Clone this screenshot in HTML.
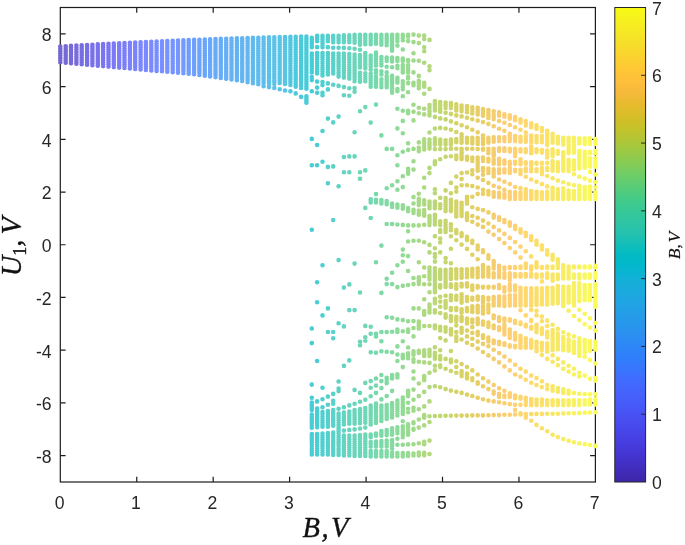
<!DOCTYPE html><html><head><meta charset="utf-8"><title>Bifurcation diagram</title>
<style>html,body{margin:0;padding:0;background:#fff}svg{display:block}text{font-family:"Liberation Sans",sans-serif;fill:#262626}.it{font-family:"Liberation Serif",serif;font-style:italic;fill:#111;stroke:#111;stroke-width:0.35px}</style></head><body>
<svg width="685" height="545" viewBox="0 0 685 545">
<rect width="685" height="545" fill="#fff"/>
<defs><linearGradient id="cb" x1="0" y1="0" x2="0" y2="1"><stop offset="0.0000" stop-color="#f9fb15"/><stop offset="0.0159" stop-color="#f7f51b"/><stop offset="0.0317" stop-color="#f6ef20"/><stop offset="0.0476" stop-color="#f5e924"/><stop offset="0.0635" stop-color="#f5e327"/><stop offset="0.0794" stop-color="#f7dc2a"/><stop offset="0.0952" stop-color="#fad62d"/><stop offset="0.1111" stop-color="#fccf30"/><stop offset="0.1270" stop-color="#fec934"/><stop offset="0.1429" stop-color="#fec338"/><stop offset="0.1587" stop-color="#febe3c"/><stop offset="0.1746" stop-color="#f8ba3d"/><stop offset="0.1905" stop-color="#f0ba36"/><stop offset="0.2063" stop-color="#e6bb2d"/><stop offset="0.2222" stop-color="#dcbd29"/><stop offset="0.2381" stop-color="#d1bf27"/><stop offset="0.2540" stop-color="#c5c22a"/><stop offset="0.2698" stop-color="#b9c431"/><stop offset="0.2857" stop-color="#abc739"/><stop offset="0.3016" stop-color="#9dc943"/><stop offset="0.3175" stop-color="#8fcb4e"/><stop offset="0.3333" stop-color="#81cc59"/><stop offset="0.3492" stop-color="#72cd64"/><stop offset="0.3651" stop-color="#64cd6f"/><stop offset="0.3810" stop-color="#57cc7a"/><stop offset="0.3968" stop-color="#4acb84"/><stop offset="0.4127" stop-color="#3fca8e"/><stop offset="0.4286" stop-color="#37c897"/><stop offset="0.4444" stop-color="#31c69f"/><stop offset="0.4603" stop-color="#2cc4a7"/><stop offset="0.4762" stop-color="#24c1ae"/><stop offset="0.4921" stop-color="#19bfb6"/><stop offset="0.5079" stop-color="#0bbdbd"/><stop offset="0.5238" stop-color="#02bac3"/><stop offset="0.5397" stop-color="#01b8ca"/><stop offset="0.5556" stop-color="#08b5d0"/><stop offset="0.5714" stop-color="#12b1d6"/><stop offset="0.5873" stop-color="#18addb"/><stop offset="0.6032" stop-color="#1ca9df"/><stop offset="0.6190" stop-color="#20a5e3"/><stop offset="0.6349" stop-color="#23a0e5"/><stop offset="0.6508" stop-color="#259be8"/><stop offset="0.6667" stop-color="#2797eb"/><stop offset="0.6825" stop-color="#2b91ef"/><stop offset="0.6984" stop-color="#2d8cf3"/><stop offset="0.7143" stop-color="#2e87f7"/><stop offset="0.7302" stop-color="#2f81fa"/><stop offset="0.7460" stop-color="#327cfc"/><stop offset="0.7619" stop-color="#3875fe"/><stop offset="0.7778" stop-color="#3e6fff"/><stop offset="0.7937" stop-color="#4269fe"/><stop offset="0.8095" stop-color="#4563fd"/><stop offset="0.8254" stop-color="#465efb"/><stop offset="0.8413" stop-color="#4758f8"/><stop offset="0.8571" stop-color="#4852f4"/><stop offset="0.8730" stop-color="#484df0"/><stop offset="0.8889" stop-color="#4747eb"/><stop offset="0.9048" stop-color="#4741e5"/><stop offset="0.9206" stop-color="#463cde"/><stop offset="0.9365" stop-color="#4537d5"/><stop offset="0.9524" stop-color="#4332cb"/><stop offset="0.9683" stop-color="#422ec0"/><stop offset="0.9841" stop-color="#402ab4"/><stop offset="1.0000" stop-color="#3e26a8"/></linearGradient></defs>
<g stroke="#1c1c1c" stroke-width="1.2" fill="none">
<rect x="60.3" y="7.5" width="535.1" height="474.5"/>
<path d="M136.74 482.00v-5.30M136.74 7.50v5.30M213.19 482.00v-5.30M213.19 7.50v5.30M289.63 482.00v-5.30M289.63 7.50v5.30M366.07 482.00v-5.30M366.07 7.50v5.30M442.51 482.00v-5.30M442.51 7.50v5.30M518.96 482.00v-5.30M518.96 7.50v5.30M60.30 455.64h5.30M595.40 455.64h-5.30M60.30 402.92h5.30M595.40 402.92h-5.30M60.30 350.19h5.30M595.40 350.19h-5.30M60.30 297.47h5.30M595.40 297.47h-5.30M60.30 244.75h5.30M595.40 244.75h-5.30M60.30 192.03h5.30M595.40 192.03h-5.30M60.30 139.31h5.30M595.40 139.31h-5.30M60.30 86.58h5.30M595.40 86.58h-5.30M60.30 33.86h5.30M595.40 33.86h-5.30"/>
</g>
<g fill="none" stroke-linecap="round" stroke-width="4.60">
<path stroke="#7466d0" d="M60.3 46.5h0M60.3 48.3h0M60.3 50.0h0M60.3 51.8h0M60.3 53.5h0M60.3 55.3h0M60.3 57.1h0M60.3 58.8h0M60.3 60.6h0M60.3 62.3h0"/>
<path stroke="#7568d5" d="M65.7 46.2h0M65.7 48.0h0M65.7 49.9h0M65.7 51.7h0M65.7 53.6h0M65.7 55.4h0M65.7 57.3h0M65.7 59.1h0M65.7 61.0h0M65.7 62.8h0"/>
<path stroke="#7669d9" d="M71.0 45.9h0M71.0 47.6h0M71.0 49.4h0M71.0 51.1h0M71.0 52.8h0M71.0 54.6h0M71.0 56.3h0M71.0 58.1h0M71.0 59.8h0M71.0 61.5h0M71.0 63.3h0"/>
<path stroke="#776bde" d="M76.4 45.6h0M76.4 47.4h0M76.4 49.2h0M76.4 51.0h0M76.4 52.8h0M76.4 54.7h0M76.4 56.5h0M76.4 58.3h0M76.4 60.1h0M76.4 61.9h0M76.4 63.8h0"/>
<path stroke="#776de2" d="M81.7 45.3h0M81.7 47.0h0M81.7 48.7h0M81.7 50.4h0M81.7 52.2h0M81.7 53.9h0M81.7 55.6h0M81.7 57.3h0M81.7 59.1h0M81.7 60.8h0M81.7 62.5h0M81.7 64.2h0"/>
<path stroke="#786fe6" d="M87.1 45.0h0M87.1 46.8h0M87.1 48.6h0M87.1 50.4h0M87.1 52.2h0M87.1 53.9h0M87.1 55.7h0M87.1 57.5h0M87.1 59.3h0M87.1 61.1h0M87.1 62.9h0M87.1 64.7h0"/>
<path stroke="#7970ea" d="M92.4 44.7h0M92.4 46.4h0M92.4 48.1h0M92.4 49.8h0M92.4 51.5h0M92.4 53.2h0M92.4 54.9h0M92.4 56.6h0M92.4 58.3h0M92.4 60.1h0M92.4 61.8h0M92.4 63.5h0M92.4 65.2h0"/>
<path stroke="#7972ee" d="M97.8 44.4h0M97.8 46.2h0M97.8 47.9h0M97.8 49.7h0M97.8 51.5h0M97.8 53.3h0M97.8 55.0h0M97.8 56.8h0M97.8 58.6h0M97.8 60.3h0M97.8 62.1h0M97.8 63.9h0M97.8 65.7h0"/>
<path stroke="#7a74f1" d="M103.1 44.1h0M103.1 45.9h0M103.1 47.8h0M103.1 49.6h0M103.1 51.4h0M103.1 53.3h0M103.1 55.1h0M103.1 57.0h0M103.1 58.8h0M103.1 60.6h0M103.1 62.5h0M103.1 64.3h0M103.1 66.1h0"/>
<path stroke="#7a77f4" d="M108.5 43.8h0M108.5 45.6h0M108.5 47.3h0M108.5 49.1h0M108.5 50.8h0M108.5 52.6h0M108.5 54.3h0M108.5 56.1h0M108.5 57.8h0M108.5 59.6h0M108.5 61.3h0M108.5 63.1h0M108.5 64.8h0M108.5 66.6h0"/>
<path stroke="#7b79f6" d="M113.8 43.5h0M113.8 45.4h0M113.8 47.2h0M113.8 49.0h0M113.8 50.8h0M113.8 52.6h0M113.8 54.4h0M113.8 56.2h0M113.8 58.0h0M113.8 59.8h0M113.8 61.6h0M113.8 63.5h0M113.8 65.3h0M113.8 67.1h0"/>
<path stroke="#7b7cf8" d="M119.2 43.3h0M119.2 45.0h0M119.2 46.7h0M119.2 48.5h0M119.2 50.2h0M119.2 51.9h0M119.2 53.7h0M119.2 55.4h0M119.2 57.1h0M119.2 58.9h0M119.2 60.6h0M119.2 62.3h0M119.2 64.1h0M119.2 65.8h0M119.2 67.6h0"/>
<path stroke="#7b7ef9" d="M124.5 43.0h0M124.5 44.8h0M124.5 46.6h0M124.5 48.4h0M124.5 50.2h0M124.5 51.9h0M124.5 53.7h0M124.5 55.5h0M124.5 57.3h0M124.5 59.1h0M124.5 60.9h0M124.5 62.7h0M124.5 64.5h0M124.5 66.2h0M124.5 68.0h0"/>
<path stroke="#7b81fb" d="M129.9 42.7h0M129.9 44.6h0M129.9 46.4h0M129.9 48.3h0M129.9 50.1h0M129.9 51.9h0M129.9 53.8h0M129.9 55.6h0M129.9 57.5h0M129.9 59.3h0M129.9 61.1h0M129.9 63.0h0M129.9 64.8h0M129.9 66.7h0M129.9 68.5h0"/>
<path stroke="#7b83fc" d="M135.2 42.5h0M135.2 44.3h0M135.2 46.0h0M135.2 47.8h0M135.2 49.5h0M135.2 51.3h0M135.2 53.1h0M135.2 54.8h0M135.2 56.6h0M135.2 58.4h0M135.2 60.1h0M135.2 61.9h0M135.2 63.7h0M135.2 65.4h0M135.2 67.2h0M135.2 69.0h0"/>
<path stroke="#7b85fd" d="M140.6 42.2h0M140.6 44.0h0M140.6 45.9h0M140.6 47.7h0M140.6 49.5h0M140.6 51.3h0M140.6 53.1h0M140.6 54.9h0M140.6 56.7h0M140.6 58.6h0M140.6 60.4h0M140.6 62.2h0M140.6 64.0h0M140.6 65.8h0M140.6 67.6h0M140.6 69.4h0"/>
<path stroke="#7b88fe" d="M145.9 42.0h0M145.9 43.7h0M145.9 45.5h0M145.9 47.2h0M145.9 49.0h0M145.9 50.7h0M145.9 52.5h0M145.9 54.2h0M145.9 56.0h0M145.9 57.7h0M145.9 59.4h0M145.9 61.2h0M145.9 62.9h0M145.9 64.7h0M145.9 66.4h0M145.9 68.2h0M145.9 69.9h0"/>
<path stroke="#7a8afe" d="M151.3 41.7h0M151.3 43.5h0M151.3 45.3h0M151.3 47.1h0M151.3 48.9h0M151.3 50.7h0M151.3 52.5h0M151.3 54.3h0M151.3 56.1h0M151.3 57.9h0M151.3 59.6h0M151.3 61.4h0M151.3 63.2h0M151.3 65.0h0M151.3 66.8h0M151.3 68.6h0M151.3 70.4h0"/>
<path stroke="#7a8dff" d="M156.6 41.5h0M156.6 43.3h0M156.6 45.2h0M156.6 47.0h0M156.6 48.8h0M156.6 50.7h0M156.6 52.5h0M156.6 54.3h0M156.6 56.2h0M156.6 58.0h0M156.6 59.9h0M156.6 61.7h0M156.6 63.5h0M156.6 65.4h0M156.6 67.2h0M156.6 69.0h0M156.6 70.9h0"/>
<path stroke="#798fff" d="M162.0 41.3h0M162.0 43.0h0M162.0 44.8h0M162.0 46.6h0M162.0 48.3h0M162.0 50.1h0M162.0 51.9h0M162.0 53.6h0M162.0 55.4h0M162.0 57.2h0M162.0 59.0h0M162.0 60.7h0M162.0 62.5h0M162.0 64.3h0M162.0 66.0h0M162.0 67.8h0M162.0 69.6h0M162.0 71.3h0"/>
<path stroke="#7892ff" d="M167.3 41.0h0M167.3 42.8h0M167.3 44.6h0M167.3 46.5h0M167.3 48.3h0M167.3 50.1h0M167.3 51.9h0M167.3 53.7h0M167.3 55.5h0M167.3 57.3h0M167.3 59.1h0M167.3 61.0h0M167.3 62.8h0M167.3 64.6h0M167.3 66.4h0M167.3 68.2h0M167.3 70.0h0M167.3 71.8h0"/>
<path stroke="#7694ff" d="M172.7 40.8h0M172.7 42.5h0M172.7 44.3h0M172.7 46.0h0M172.7 47.8h0M172.7 49.5h0M172.7 51.3h0M172.7 53.0h0M172.7 54.8h0M172.7 56.5h0M172.7 58.3h0M172.7 60.0h0M172.7 61.8h0M172.7 63.5h0M172.7 65.3h0M172.7 67.0h0M172.7 68.8h0M172.7 70.5h0M172.7 72.3h0"/>
<path stroke="#7597ff" d="M178.0 40.6h0M178.0 42.4h0M178.0 44.1h0M178.0 45.9h0M178.0 47.7h0M178.0 49.5h0M178.0 51.3h0M178.0 53.1h0M178.0 54.9h0M178.0 56.7h0M178.0 58.5h0M178.0 60.2h0M178.0 62.0h0M178.0 63.8h0M178.0 65.6h0M178.0 67.4h0M178.0 69.2h0M178.0 71.0h0M178.0 72.8h0"/>
<path stroke="#729aff" d="M183.4 40.3h0M183.4 42.2h0M183.4 44.0h0M183.4 45.8h0M183.4 47.7h0M183.4 49.5h0M183.4 51.3h0M183.4 53.1h0M183.4 55.0h0M183.4 56.8h0M183.4 58.6h0M183.4 60.5h0M183.4 62.3h0M183.4 64.1h0M183.4 65.9h0M183.4 67.8h0M183.4 69.6h0M183.4 71.4h0M183.4 73.2h0"/>
<path stroke="#6f9cfe" d="M188.7 40.1h0M188.7 41.9h0M188.7 43.7h0M188.7 45.4h0M188.7 47.2h0M188.7 49.0h0M188.7 50.7h0M188.7 52.5h0M188.7 54.3h0M188.7 56.0h0M188.7 57.8h0M188.7 59.6h0M188.7 61.3h0M188.7 63.1h0M188.7 64.9h0M188.7 66.6h0M188.7 68.4h0M188.7 70.2h0M188.7 72.0h0M188.7 73.7h0"/>
<path stroke="#6d9ffd" d="M194.1 39.9h0M194.1 41.7h0M194.1 43.5h0M194.1 45.3h0M194.1 47.1h0M194.1 48.9h0M194.1 50.7h0M194.1 52.5h0M194.1 54.4h0M194.1 56.2h0M194.1 58.0h0M194.1 59.8h0M194.1 61.6h0M194.1 63.4h0M194.1 65.2h0M194.1 67.0h0M194.1 68.8h0M194.1 70.6h0M194.1 72.4h0M194.1 74.2h0"/>
<path stroke="#6ba2fc" d="M199.4 39.7h0M199.4 41.5h0M199.4 43.2h0M199.4 45.0h0M199.4 46.8h0M199.4 48.5h0M199.4 50.3h0M199.4 52.0h0M199.4 53.8h0M199.4 55.6h0M199.4 57.3h0M199.4 59.1h0M199.4 60.8h0M199.4 62.6h0M199.4 64.4h0M199.4 66.1h0M199.4 67.9h0M199.4 69.6h0M199.4 71.4h0M199.4 73.2h0M199.4 74.9h0"/>
<path stroke="#69a5fb" d="M204.8 39.5h0M204.8 41.3h0M204.8 43.1h0M204.8 44.9h0M204.8 46.7h0M204.8 48.6h0M204.8 50.4h0M204.8 52.2h0M204.8 54.0h0M204.8 55.8h0M204.8 57.6h0M204.8 59.4h0M204.8 61.2h0M204.8 63.0h0M204.8 64.8h0M204.8 66.6h0M204.8 68.4h0M204.8 70.2h0M204.8 72.1h0M204.8 73.9h0M204.8 75.7h0"/>
<path stroke="#69a7fa" d="M210.1 39.3h0M210.1 41.1h0M210.1 42.8h0M210.1 44.6h0M210.1 46.4h0M210.1 48.1h0M210.1 49.9h0M210.1 51.7h0M210.1 53.4h0M210.1 55.2h0M210.1 57.0h0M210.1 58.7h0M210.1 60.5h0M210.1 62.3h0M210.1 64.0h0M210.1 65.8h0M210.1 67.6h0M210.1 69.3h0M210.1 71.1h0M210.1 72.9h0M210.1 74.6h0M210.1 76.4h0"/>
<path stroke="#68aaf8" d="M215.5 39.1h0M215.5 40.9h0M215.5 42.7h0M215.5 44.6h0M215.5 46.4h0M215.5 48.2h0M215.5 50.0h0M215.5 51.8h0M215.5 53.6h0M215.5 55.4h0M215.5 57.2h0M215.5 59.0h0M215.5 60.8h0M215.5 62.7h0M215.5 64.5h0M215.5 66.3h0M215.5 68.1h0M215.5 69.9h0M215.5 71.7h0M215.5 73.5h0M215.5 75.3h0M215.5 77.1h0"/>
<path stroke="#68acf6" d="M220.8 38.9h0M220.8 40.7h0M220.8 42.5h0M220.8 44.2h0M220.8 46.0h0M220.8 47.8h0M220.8 49.6h0M220.8 51.3h0M220.8 53.1h0M220.8 54.9h0M220.8 56.6h0M220.8 58.4h0M220.8 60.2h0M220.8 61.9h0M220.8 63.7h0M220.8 65.5h0M220.8 67.3h0M220.8 69.0h0M220.8 70.8h0M220.8 72.6h0M220.8 74.3h0M220.8 76.1h0M220.8 77.9h0"/>
<path stroke="#67aef5" d="M226.2 38.7h0M226.2 40.6h0M226.2 42.4h0M226.2 44.2h0M226.2 46.0h0M226.2 47.8h0M226.2 49.6h0M226.2 51.4h0M226.2 53.3h0M226.2 55.1h0M226.2 56.9h0M226.2 58.7h0M226.2 60.5h0M226.2 62.3h0M226.2 64.2h0M226.2 66.0h0M226.2 67.8h0M226.2 69.6h0M226.2 71.4h0M226.2 73.2h0M226.2 75.0h0M226.2 76.9h0M226.2 78.7h0"/>
<path stroke="#66b1f3" d="M231.5 38.6h0M231.5 40.3h0M231.5 42.1h0M231.5 43.9h0M231.5 45.7h0M231.5 47.5h0M231.5 49.2h0M231.5 51.0h0M231.5 52.8h0M231.5 54.6h0M231.5 56.3h0M231.5 58.1h0M231.5 59.9h0M231.5 61.7h0M231.5 63.5h0M231.5 65.2h0M231.5 67.0h0M231.5 68.8h0M231.5 70.6h0M231.5 72.4h0M231.5 74.1h0M231.5 75.9h0M231.5 77.7h0M231.5 79.5h0"/>
<path stroke="#64b3f1" d="M236.9 38.4h0M236.9 40.2h0M236.9 42.0h0M236.9 43.8h0M236.9 45.7h0M236.9 47.5h0M236.9 49.3h0M236.9 51.1h0M236.9 53.0h0M236.9 54.8h0M236.9 56.6h0M236.9 58.4h0M236.9 60.2h0M236.9 62.1h0M236.9 63.9h0M236.9 65.7h0M236.9 67.5h0M236.9 69.3h0M236.9 71.2h0M236.9 73.0h0M236.9 74.8h0M236.9 76.6h0M236.9 78.4h0M236.9 80.3h0"/>
<path stroke="#63b5f0" d="M242.2 38.2h0M242.2 40.0h0M242.2 41.8h0M242.2 43.6h0M242.2 45.4h0M242.2 47.1h0M242.2 48.9h0M242.2 50.7h0M242.2 52.5h0M242.2 54.3h0M242.2 56.1h0M242.2 57.8h0M242.2 59.6h0M242.2 61.4h0M242.2 63.2h0M242.2 65.0h0M242.2 66.8h0M242.2 68.6h0M242.2 70.3h0M242.2 72.1h0M242.2 73.9h0M242.2 75.7h0M242.2 77.5h0M242.2 79.3h0M242.2 81.0h0"/>
<path stroke="#62b7ee" d="M247.6 38.0h0M247.6 39.9h0M247.6 41.7h0M247.6 43.6h0M247.6 45.4h0M247.6 47.2h0M247.6 49.1h0M247.6 50.9h0M247.6 52.7h0M247.6 54.6h0M247.6 56.4h0M247.6 58.2h0M247.6 60.1h0M247.6 61.9h0M247.6 63.7h0M247.6 65.6h0M247.6 67.4h0M247.6 69.3h0M247.6 71.1h0M247.6 72.9h0M247.6 74.8h0M247.6 76.6h0M247.6 78.4h0M247.6 80.3h0M247.6 82.1h0"/>
<path stroke="#61baed" d="M252.9 37.9h0M252.9 39.7h0M252.9 41.5h0M252.9 43.3h0M252.9 45.1h0M252.9 46.9h0M252.9 48.7h0M252.9 50.6h0M252.9 52.4h0M252.9 54.2h0M252.9 56.0h0M252.9 57.8h0M252.9 59.6h0M252.9 61.4h0M252.9 63.2h0M252.9 65.0h0M252.9 66.9h0M252.9 68.7h0M252.9 70.5h0M252.9 72.3h0M252.9 74.1h0M252.9 75.9h0M252.9 77.7h0M252.9 79.5h0M252.9 81.3h0M252.9 83.2h0"/>
<path stroke="#60bcec" d="M258.3 37.7h0M258.3 39.5h0M258.3 41.3h0M258.3 43.1h0M258.3 44.9h0M258.3 46.7h0M258.3 48.5h0M258.3 50.2h0M258.3 52.0h0M258.3 53.8h0M258.3 55.6h0M258.3 57.4h0M258.3 59.2h0M258.3 61.0h0M258.3 62.8h0M258.3 64.5h0M258.3 66.3h0M258.3 68.1h0M258.3 69.9h0M258.3 71.7h0M258.3 73.5h0M258.3 75.3h0M258.3 77.1h0M258.3 78.8h0M258.3 80.6h0M258.3 82.4h0M258.3 84.2h0"/>
<path stroke="#5ebeeb" d="M263.6 37.6h0M263.6 39.4h0M263.6 41.2h0M263.6 43.0h0M263.6 44.8h0M263.6 46.6h0M263.6 48.4h0M263.6 50.3h0M263.6 52.1h0M263.6 53.9h0M263.6 55.7h0M263.6 57.5h0M263.6 59.3h0M263.6 61.1h0M263.6 63.0h0M263.6 64.8h0M263.6 66.6h0M263.6 68.4h0M263.6 70.2h0M263.6 72.0h0M263.6 73.8h0M263.6 75.6h0M263.6 77.5h0M263.6 79.3h0M263.6 81.1h0M263.6 82.9h0M263.6 86.3h0"/>
<path stroke="#5dc0e9" d="M269.0 37.4h0M269.0 39.2h0M269.0 41.0h0M269.0 42.8h0M269.0 44.6h0M269.0 46.4h0M269.0 48.2h0M269.0 49.9h0M269.0 51.7h0M269.0 53.5h0M269.0 55.3h0M269.0 57.1h0M269.0 58.9h0M269.0 60.7h0M269.0 62.5h0M269.0 64.3h0M269.0 66.1h0M269.0 67.8h0M269.0 69.6h0M269.0 71.4h0M269.0 73.2h0M269.0 75.0h0M269.0 76.8h0M269.0 78.6h0M269.0 80.4h0M269.0 82.2h0M269.0 83.9h0M269.0 87.1h0"/>
<path stroke="#5bc2e8" d="M274.3 37.3h0M274.3 39.1h0M274.3 40.9h0M274.3 42.7h0M274.3 44.5h0M274.3 46.3h0M274.3 48.0h0M274.3 49.8h0M274.3 51.6h0M274.3 53.4h0M274.3 55.2h0M274.3 57.0h0M274.3 58.8h0M274.3 60.6h0M274.3 62.4h0M274.3 64.2h0M274.3 66.0h0M274.3 67.8h0M274.3 69.6h0M274.3 71.4h0M274.3 73.2h0M274.3 75.0h0M274.3 76.8h0M274.3 78.6h0M274.3 80.4h0M274.3 82.2h0M274.3 83.9h0M274.3 88.0h0"/>
<path stroke="#59c4e6" d="M279.7 37.1h0M279.7 39.0h0M279.7 40.8h0M279.7 42.6h0M279.7 44.5h0M279.7 46.3h0M279.7 48.1h0M279.7 49.9h0M279.7 51.8h0M279.7 53.6h0M279.7 55.4h0M279.7 57.3h0M279.7 59.1h0M279.7 60.9h0M279.7 62.8h0M279.7 64.6h0M279.7 66.4h0M279.7 68.2h0M279.7 70.1h0M279.7 71.9h0M279.7 73.7h0M279.7 75.6h0M279.7 77.4h0M279.7 79.2h0M279.7 81.1h0M279.7 82.9h0M279.7 89.2h0"/>
<path stroke="#57c5e4" d="M285.0 37.0h0M285.0 38.8h0M285.0 40.6h0M285.0 42.4h0M285.0 44.2h0M285.0 46.0h0M285.0 47.8h0M285.0 49.6h0M285.0 51.4h0M285.0 53.2h0M285.0 55.1h0M285.0 56.9h0M285.0 58.7h0M285.0 60.5h0M285.0 62.3h0M285.0 64.1h0M285.0 65.9h0M285.0 67.7h0M285.0 69.5h0M285.0 71.3h0M285.0 73.1h0M285.0 74.9h0M285.0 76.7h0M285.0 78.5h0M285.0 80.3h0M285.0 82.1h0M285.0 83.9h0M285.0 90.5h0"/>
<path stroke="#53c7e1" d="M290.4 36.9h0M290.4 38.6h0M290.4 40.4h0M290.4 42.2h0M290.4 44.0h0M290.4 45.8h0M290.4 47.6h0M290.4 49.3h0M290.4 51.1h0M290.4 52.9h0M290.4 54.7h0M290.4 56.5h0M290.4 58.3h0M290.4 60.0h0M290.4 61.8h0M290.4 63.6h0M290.4 65.4h0M290.4 67.2h0M290.4 69.0h0M290.4 70.7h0M290.4 72.5h0M290.4 74.3h0M290.4 76.1h0M290.4 77.9h0M290.4 79.7h0M290.4 81.4h0M290.4 83.2h0M290.4 85.0h0M290.4 91.3h0"/>
<path stroke="#4fc9de" d="M295.7 36.7h0M295.7 38.5h0M295.7 40.3h0M295.7 42.1h0M295.7 43.9h0M295.7 45.7h0M295.7 47.5h0M295.7 49.3h0M295.7 51.1h0M295.7 52.8h0M295.7 54.6h0M295.7 56.4h0M295.7 58.2h0M295.7 60.0h0M295.7 61.8h0M295.7 63.6h0M295.7 65.4h0M295.7 67.2h0M295.7 68.9h0M295.7 70.7h0M295.7 72.5h0M295.7 74.3h0M295.7 76.1h0M295.7 77.9h0M295.7 79.7h0M295.7 81.5h0M295.7 83.3h0M295.7 85.1h0M295.7 86.8h0M295.7 93.4h0"/>
<path stroke="#4bcadc" d="M301.1 36.6h0M301.1 38.4h0M301.1 40.3h0M301.1 42.1h0M301.1 44.0h0M301.1 45.8h0M301.1 47.6h0M301.1 49.5h0M301.1 51.3h0M301.1 53.1h0M301.1 55.0h0M301.1 56.8h0M301.1 58.6h0M301.1 60.5h0M301.1 62.3h0M301.1 64.2h0M301.1 66.0h0M301.1 67.8h0M301.1 69.7h0M301.1 71.5h0M301.1 73.3h0M301.1 75.2h0M301.1 77.0h0M301.1 78.9h0M301.1 80.7h0M301.1 82.5h0M301.1 84.4h0M301.1 86.2h0M301.1 88.0h0M301.1 96.9h0"/>
<path stroke="#48ccd9" d="M306.4 36.5h0M306.4 38.3h0M306.4 40.1h0M306.4 41.9h0M306.4 43.7h0M306.4 45.5h0M306.4 47.3h0M306.4 49.1h0M306.4 50.9h0M306.4 52.7h0M306.4 54.5h0M306.4 56.3h0M306.4 58.1h0M306.4 59.9h0M306.4 61.7h0M306.4 63.5h0M306.4 65.3h0M306.4 67.1h0M306.4 68.9h0M306.4 70.7h0M306.4 72.5h0M306.4 74.3h0M306.4 76.1h0M306.4 77.9h0M306.4 79.7h0M306.4 81.5h0M306.4 83.3h0M306.4 85.1h0M306.4 86.9h0M306.4 88.7h0M306.4 96.2h0M306.4 97.8h0M306.4 99.4h0M306.4 101.0h0M306.4 102.7h0"/>
<path stroke="#48cdd6" d="M311.8 37.9h0M311.8 39.8h0M311.8 41.7h0M311.8 43.6h0M311.8 45.4h0M311.8 47.3h0M311.8 53.5h0M311.8 55.6h0M311.8 57.8h0M311.8 59.9h0M311.8 62.0h0M311.8 64.1h0M311.8 66.2h0M311.8 68.3h0M311.8 70.4h0M311.8 72.5h0M311.8 77.1h0M311.8 80.1h0M311.8 91.2h0M311.8 138.9h0M311.8 165.2h0M311.8 229.8h0M311.8 328.5h0M311.8 343.1h0M311.8 384.6h0M311.8 397.7h0M311.8 402.5h0M311.8 404.4h0M311.8 406.2h0M311.8 408.1h0M311.8 409.9h0M311.8 414.6h0M311.8 416.8h0M311.8 419.0h0M311.8 421.2h0M311.8 423.4h0M311.8 425.6h0M311.8 427.8h0M311.8 434.0h0M311.8 436.0h0M311.8 438.1h0M311.8 440.1h0M311.8 442.2h0M311.8 444.2h0M311.8 446.3h0M311.8 448.3h0M311.8 450.4h0M311.8 452.4h0M311.8 454.5h0"/>
<path stroke="#4aced3" d="M317.1 35.9h0M317.1 37.7h0M317.1 39.5h0M317.1 41.3h0M317.1 47.0h0M317.1 47.3h0M317.1 53.0h0M317.1 55.1h0M317.1 57.1h0M317.1 59.2h0M317.1 61.2h0M317.1 63.3h0M317.1 65.3h0M317.1 67.4h0M317.1 69.4h0M317.1 71.5h0M317.1 73.5h0M317.1 81.6h0M317.1 87.6h0M317.1 92.7h0M317.1 145.0h0M317.1 165.2h0M317.1 282.3h0M317.1 302.3h0M317.1 361.0h0M317.1 401.4h0M317.1 408.6h0M317.1 410.7h0M317.1 412.7h0M317.1 414.8h0M317.1 416.9h0M317.1 419.0h0M317.1 421.0h0M317.1 423.1h0M317.1 425.2h0M317.1 427.3h0M317.1 434.0h0M317.1 436.0h0M317.1 438.1h0M317.1 440.1h0M317.1 442.2h0M317.1 444.2h0M317.1 446.3h0M317.1 448.3h0M317.1 450.4h0M317.1 452.4h0M317.1 454.5h0"/>
<path stroke="#4ecfd0" d="M322.5 35.9h0M322.5 37.8h0M322.5 39.7h0M322.5 41.6h0M322.5 43.5h0M322.5 45.4h0M322.5 47.3h0M322.5 53.0h0M322.5 55.1h0M322.5 57.1h0M322.5 59.2h0M322.5 61.2h0M322.5 63.3h0M322.5 65.3h0M322.5 67.4h0M322.5 69.4h0M322.5 71.5h0M322.5 73.5h0M322.5 75.5h0M322.5 82.1h0M322.5 85.1h0M322.5 92.7h0M322.5 95.2h0M322.5 131.0h0M322.5 161.7h0M322.5 265.2h0M322.5 315.4h0M322.5 387.8h0M322.5 399.2h0M322.5 407.2h0M322.5 412.1h0M322.5 414.2h0M322.5 416.3h0M322.5 418.4h0M322.5 420.5h0M322.5 422.6h0M322.5 424.7h0M322.5 426.8h0M322.5 433.5h0M322.5 435.6h0M322.5 437.7h0M322.5 439.8h0M322.5 441.9h0M322.5 444.0h0M322.5 446.1h0M322.5 448.2h0M322.5 450.3h0M322.5 452.4h0M322.5 454.5h0"/>
<path stroke="#54d0cd" d="M327.9 35.9h0M327.9 37.7h0M327.9 39.5h0M327.9 41.3h0M327.9 47.0h0M327.9 47.3h0M327.9 53.0h0M327.9 55.2h0M327.9 57.3h0M327.9 59.5h0M327.9 61.6h0M327.9 63.8h0M327.9 65.9h0M327.9 68.1h0M327.9 70.2h0M327.9 72.4h0M327.9 74.5h0M327.9 83.4h0M327.9 89.4h0M327.9 118.6h0M327.9 166.9h0M327.9 183.2h0M327.9 308.4h0M327.9 332.0h0M327.9 396.6h0M327.9 404.7h0M327.9 411.1h0M327.9 413.1h0M327.9 415.0h0M327.9 417.0h0M327.9 418.9h0M327.9 420.9h0M327.9 422.8h0M327.9 424.8h0M327.9 426.8h0M327.9 433.0h0M327.9 435.1h0M327.9 437.3h0M327.9 439.4h0M327.9 441.6h0M327.9 443.7h0M327.9 445.9h0M327.9 448.0h0M327.9 450.2h0M327.9 452.3h0M327.9 454.5h0"/>
<path stroke="#5ad1c9" d="M333.2 35.9h0M333.2 38.0h0M333.2 40.2h0M333.2 42.3h0M333.2 47.7h0M333.2 53.5h0M333.2 55.5h0M333.2 57.5h0M333.2 59.5h0M333.2 61.5h0M333.2 63.5h0M333.2 65.5h0M333.2 67.5h0M333.2 69.5h0M333.2 71.5h0M333.2 73.5h0M333.2 84.8h0M333.2 122.4h0M333.2 166.4h0M333.2 220.1h0M333.2 332.0h0M333.2 338.2h0M333.2 393.9h0M333.2 400.7h0M333.2 403.7h0M333.2 410.1h0M333.2 412.0h0M333.2 414.0h0M333.2 416.0h0M333.2 417.9h0M333.2 419.9h0M333.2 421.8h0M333.2 423.8h0M333.2 425.7h0M333.2 432.5h0M333.2 434.5h0M333.2 436.6h0M333.2 438.6h0M333.2 440.7h0M333.2 442.7h0M333.2 444.7h0M333.2 446.8h0M333.2 448.8h0M333.2 450.9h0M333.2 452.9h0M333.2 455.0h0"/>
<path stroke="#5fd2c6" d="M338.6 35.9h0M338.6 38.0h0M338.6 40.2h0M338.6 42.3h0M338.6 47.7h0M338.6 53.5h0M338.6 55.6h0M338.6 57.7h0M338.6 59.8h0M338.6 61.9h0M338.6 64.0h0M338.6 66.1h0M338.6 68.2h0M338.6 70.3h0M338.6 72.4h0M338.6 74.5h0M338.6 76.6h0M338.6 85.9h0M338.6 116.6h0M338.6 186.2h0M338.6 260.1h0M338.6 323.3h0M338.6 381.5h0M338.6 388.6h0M338.6 391.1h0M338.6 408.7h0M338.6 413.6h0M338.6 415.8h0M338.6 418.0h0M338.6 420.2h0M338.6 422.3h0M338.6 424.5h0M338.6 426.7h0M338.6 428.9h0M338.6 431.0h0M338.6 433.2h0M338.6 435.4h0M338.6 437.6h0M338.6 439.7h0M338.6 441.9h0M338.6 444.1h0M338.6 446.3h0M338.6 448.5h0M338.6 450.6h0M338.6 452.8h0M338.6 455.0h0"/>
<path stroke="#63d3c3" d="M343.9 35.4h0M343.9 37.1h0M343.9 38.8h0M343.9 40.6h0M343.9 42.3h0M343.9 47.9h0M343.9 53.5h0M343.9 55.7h0M343.9 57.9h0M343.9 60.1h0M343.9 62.3h0M343.9 64.5h0M343.9 66.6h0M343.9 68.8h0M343.9 71.0h0M343.9 73.2h0M343.9 75.4h0M343.9 77.6h0M343.9 87.1h0M343.9 95.2h0M343.9 157.0h0M343.9 172.2h0M343.9 287.6h0M343.9 326.4h0M343.9 365.9h0M343.9 407.2h0M343.9 412.6h0M343.9 414.6h0M343.9 416.6h0M343.9 418.6h0M343.9 420.6h0M343.9 422.5h0M343.9 424.5h0M343.9 430.6h0M343.9 435.5h0M343.9 437.5h0M343.9 439.5h0M343.9 441.5h0M343.9 443.5h0M343.9 445.5h0M343.9 447.5h0M343.9 449.5h0M343.9 451.5h0M343.9 453.5h0M343.9 455.5h0"/>
<path stroke="#67d4c0" d="M349.3 35.4h0M349.3 37.1h0M349.3 38.8h0M349.3 40.6h0M349.3 42.3h0M349.3 48.2h0M349.3 54.0h0M349.3 56.1h0M349.3 58.1h0M349.3 60.2h0M349.3 62.2h0M349.3 64.3h0M349.3 66.3h0M349.3 68.4h0M349.3 70.4h0M349.3 72.4h0M349.3 74.5h0M349.3 76.5h0M349.3 78.6h0M349.3 88.3h0M349.3 95.7h0M349.3 156.4h0M349.3 172.2h0M349.3 284.4h0M349.3 310.1h0M349.3 360.4h0M349.3 405.4h0M349.3 411.6h0M349.3 413.6h0M349.3 415.6h0M349.3 417.7h0M349.3 419.7h0M349.3 421.7h0M349.3 423.7h0M349.3 429.9h0M349.3 435.5h0M349.3 437.5h0M349.3 439.5h0M349.3 441.5h0M349.3 443.5h0M349.3 445.5h0M349.3 447.5h0M349.3 449.5h0M349.3 451.5h0M349.3 453.5h0M349.3 455.5h0"/>
<path stroke="#6ad5bc" d="M354.6 88.1h0M354.6 91.7h0M354.6 34.9h0M354.6 36.9h0M354.6 38.8h0M354.6 40.8h0M354.6 42.8h0M354.6 48.7h0M354.6 54.5h0M354.6 56.6h0M354.6 58.7h0M354.6 60.7h0M354.6 62.8h0M354.6 64.8h0M354.6 66.9h0M354.6 68.9h0M354.6 71.0h0M354.6 73.1h0M354.6 75.1h0M354.6 77.2h0M354.6 79.2h0M354.6 81.3h0M354.6 132.2h0M354.6 156.4h0M354.6 263.6h0M354.6 310.1h0M354.6 389.9h0M354.6 403.7h0M354.6 410.1h0M354.6 412.0h0M354.6 414.0h0M354.6 415.9h0M354.6 417.9h0M354.6 419.8h0M354.6 421.8h0M354.6 423.7h0M354.6 429.4h0M354.6 435.5h0M354.6 437.5h0M354.6 439.6h0M354.6 441.6h0M354.6 443.7h0M354.6 445.7h0M354.6 447.8h0M354.6 449.8h0M354.6 451.9h0M354.6 453.9h0M354.6 456.0h0"/>
<path stroke="#6cd6b8" d="M360.0 111.3h0M360.0 34.9h0M360.0 36.9h0M360.0 38.9h0M360.0 40.8h0M360.0 42.8h0M360.0 44.8h0M360.0 49.7h0M360.0 55.1h0M360.0 57.1h0M360.0 59.2h0M360.0 61.3h0M360.0 63.3h0M360.0 65.4h0M360.0 67.5h0M360.0 72.7h0M360.0 74.5h0M360.0 76.3h0M360.0 78.2h0M360.0 80.0h0M360.0 81.8h0M360.0 172.2h0M360.0 178.7h0M360.0 292.5h0M360.0 341.7h0M360.0 345.2h0M360.0 392.9h0M360.0 401.7h0M360.0 409.1h0M360.0 411.1h0M360.0 413.1h0M360.0 415.1h0M360.0 417.2h0M360.0 419.2h0M360.0 421.2h0M360.0 423.2h0M360.0 428.6h0M360.0 435.0h0M360.0 437.1h0M360.0 439.2h0M360.0 441.3h0M360.0 443.4h0M360.0 445.5h0M360.0 447.6h0M360.0 449.7h0M360.0 451.8h0M360.0 453.9h0M360.0 456.0h0"/>
<path stroke="#6fd7b5" d="M365.3 34.9h0M365.3 36.8h0M365.3 38.7h0M365.3 40.5h0M365.3 42.4h0M365.3 44.3h0M365.3 53.0h0M365.3 55.0h0M365.3 56.9h0M365.3 58.8h0M365.3 60.8h0M365.3 62.7h0M365.3 64.6h0M365.3 66.6h0M365.3 68.5h0M365.3 73.2h0M365.3 75.2h0M365.3 77.2h0M365.3 79.3h0M365.3 81.3h0M365.3 107.1h0M365.3 170.4h0M365.3 207.9h0M365.3 325.9h0M365.3 337.3h0M365.3 340.8h0M365.3 382.9h0M365.3 399.7h0M365.3 408.1h0M365.3 410.2h0M365.3 412.3h0M365.3 414.4h0M365.3 416.4h0M365.3 418.5h0M365.3 420.6h0M365.3 422.7h0M365.3 427.6h0M365.3 434.5h0M365.3 436.6h0M365.3 438.8h0M365.3 440.9h0M365.3 443.1h0M365.3 445.2h0M365.3 447.4h0M365.3 449.5h0M365.3 451.7h0M365.3 453.8h0M365.3 456.0h0"/>
<path stroke="#72d8b1" d="M370.7 34.9h0M370.7 36.8h0M370.7 38.7h0M370.7 40.5h0M370.7 42.4h0M370.7 44.3h0M370.7 55.6h0M370.7 57.7h0M370.7 59.9h0M370.7 62.1h0M370.7 64.3h0M370.7 66.5h0M370.7 69.8h0M370.7 73.7h0M370.7 75.9h0M370.7 78.1h0M370.7 80.3h0M370.7 82.5h0M370.7 84.6h0M370.7 86.8h0M370.7 122.6h0M370.7 218.0h0M370.7 199.2h0M370.7 200.9h0M370.7 202.5h0M370.7 326.8h0M370.7 333.8h0M370.7 352.2h0M370.7 381.1h0M370.7 387.8h0M370.7 396.3h0M370.7 405.6h0M370.7 407.7h0M370.7 409.8h0M370.7 411.9h0M370.7 414.0h0M370.7 416.1h0M370.7 418.2h0M370.7 420.3h0M370.7 422.4h0M370.7 424.5h0M370.7 434.5h0M370.7 435.9h0M370.7 437.3h0M370.7 442.1h0M370.7 444.2h0M370.7 446.4h0M370.7 451.1h0M370.7 452.9h0M370.7 454.7h0M370.7 456.5h0"/>
<path stroke="#76d9ac" d="M376.0 34.9h0M376.0 36.7h0M376.0 38.5h0M376.0 40.2h0M376.0 42.0h0M376.0 43.8h0M376.0 52.5h0M376.0 54.7h0M376.0 56.8h0M376.0 59.0h0M376.0 61.2h0M376.0 63.3h0M376.0 65.5h0M376.0 70.3h0M376.0 72.9h0M376.0 76.7h0M376.0 78.7h0M376.0 80.8h0M376.0 82.8h0M376.0 84.8h0M376.0 86.8h0M376.0 104.6h0M376.0 194.1h0M376.0 262.2h0M376.0 199.7h0M376.0 201.1h0M376.0 202.5h0M376.0 333.8h0M376.0 336.4h0M376.0 352.7h0M376.0 378.5h0M376.0 385.6h0M376.0 392.9h0M376.0 403.5h0M376.0 405.7h0M376.0 407.9h0M376.0 410.0h0M376.0 412.2h0M376.0 414.4h0M376.0 416.5h0M376.0 418.7h0M376.0 420.9h0M376.0 423.0h0M376.0 433.5h0M376.0 434.7h0M376.0 435.8h0M376.0 441.5h0M376.0 443.2h0M376.0 444.8h0M376.0 446.4h0M376.0 451.1h0M376.0 452.9h0M376.0 454.7h0M376.0 456.5h0"/>
<path stroke="#7bdaa8" d="M381.4 34.9h0M381.4 36.9h0M381.4 38.9h0M381.4 40.8h0M381.4 42.8h0M381.4 44.8h0M381.4 57.1h0M381.4 59.2h0M381.4 61.3h0M381.4 63.4h0M381.4 65.5h0M381.4 71.3h0M381.4 74.4h0M381.4 79.2h0M381.4 81.3h0M381.4 83.3h0M381.4 85.3h0M381.4 87.3h0M381.4 135.4h0M381.4 245.6h0M381.4 292.9h0M381.4 200.1h0M381.4 201.8h0M381.4 203.4h0M381.4 332.0h0M381.4 341.2h0M381.4 351.3h0M381.4 375.0h0M381.4 381.1h0M381.4 388.1h0M381.4 399.4h0M381.4 405.6h0M381.4 407.5h0M381.4 409.4h0M381.4 411.4h0M381.4 413.3h0M381.4 415.2h0M381.4 417.1h0M381.4 419.1h0M381.4 421.0h0M381.4 431.0h0M381.4 432.6h0M381.4 434.2h0M381.4 435.8h0M381.4 441.0h0M381.4 442.8h0M381.4 444.6h0M381.4 446.4h0M381.4 451.1h0M381.4 452.9h0M381.4 454.7h0M381.4 456.5h0"/>
<path stroke="#81daa4" d="M386.7 34.9h0M386.7 37.0h0M386.7 39.1h0M386.7 41.1h0M386.7 43.2h0M386.7 45.3h0M386.7 57.6h0M386.7 59.3h0M386.7 60.9h0M386.7 66.8h0M386.7 72.4h0M386.7 76.2h0M386.7 78.1h0M386.7 79.9h0M386.7 81.8h0M386.7 83.6h0M386.7 85.5h0M386.7 87.3h0M386.7 148.9h0M386.7 188.3h0M386.7 224.0h0M386.7 278.8h0M386.7 284.1h0M386.7 201.0h0M386.7 202.6h0M386.7 204.3h0M386.7 317.2h0M386.7 332.0h0M386.7 351.7h0M386.7 377.7h0M386.7 379.3h0M386.7 381.0h0M386.7 383.2h0M386.7 396.1h0M386.7 405.1h0M386.7 407.0h0M386.7 409.0h0M386.7 411.0h0M386.7 413.0h0M386.7 415.0h0M386.7 417.0h0M386.7 419.0h0M386.7 430.0h0M386.7 431.7h0M386.7 433.5h0M386.7 435.3h0M386.7 440.5h0M386.7 442.5h0M386.7 444.5h0M386.7 446.4h0M386.7 451.1h0M386.7 452.9h0M386.7 454.7h0M386.7 456.5h0"/>
<path stroke="#86da9f" d="M392.1 34.9h0M392.1 36.9h0M392.1 38.9h0M392.1 40.9h0M392.1 42.9h0M392.1 44.9h0M392.1 46.9h0M392.1 48.9h0M392.1 50.8h0M392.1 57.6h0M392.1 59.5h0M392.1 61.4h0M392.1 67.3h0M392.1 75.7h0M392.1 77.8h0M392.1 80.0h0M392.1 82.1h0M392.1 84.2h0M392.1 86.3h0M392.1 88.4h0M392.1 90.6h0M392.1 92.7h0M392.1 148.9h0M392.1 185.3h0M392.1 224.0h0M392.1 272.7h0M392.1 284.1h0M392.1 203.6h0M392.1 205.3h0M392.1 206.9h0M392.1 317.7h0M392.1 331.7h0M392.1 352.2h0M392.1 375.1h0M392.1 376.7h0M392.1 378.4h0M392.1 390.9h0M392.1 403.0h0M392.1 405.1h0M392.1 407.2h0M392.1 409.2h0M392.1 411.3h0M392.1 413.4h0M392.1 415.4h0M392.1 417.5h0M392.1 428.4h0M392.1 430.6h0M392.1 432.7h0M392.1 434.8h0M392.1 440.0h0M392.1 442.1h0M392.1 444.2h0M392.1 446.3h0M392.1 448.4h0M392.1 452.6h0M392.1 454.6h0M392.1 456.5h0"/>
<path stroke="#8cdb9a" d="M397.4 34.9h0M397.4 37.0h0M397.4 39.1h0M397.4 41.3h0M397.4 45.6h0M397.4 58.1h0M397.4 59.5h0M397.4 60.9h0M397.4 65.8h0M397.4 68.3h0M397.4 77.7h0M397.4 79.4h0M397.4 81.0h0M397.4 82.6h0M397.4 89.0h0M397.4 90.2h0M397.4 91.3h0M397.4 108.8h0M397.4 128.4h0M397.4 155.2h0M397.4 165.2h0M397.4 181.3h0M397.4 189.7h0M397.4 224.5h0M397.4 265.2h0M397.4 287.1h0M397.4 204.5h0M397.4 206.1h0M397.4 207.8h0M397.4 319.4h0M397.4 329.5h0M397.4 330.7h0M397.4 331.9h0M397.4 346.4h0M397.4 354.5h0M397.4 361.0h0M397.4 374.2h0M397.4 375.8h0M397.4 377.5h0M397.4 400.5h0M397.4 402.7h0M397.4 404.8h0M397.4 406.9h0M397.4 409.1h0M397.4 411.2h0M397.4 413.3h0M397.4 415.5h0M397.4 427.4h0M397.4 429.4h0M397.4 431.4h0M397.4 433.3h0M397.4 438.7h0M397.4 444.7h0M397.4 453.1h0M397.4 454.8h0M397.4 456.5h0"/>
<path stroke="#92db95" d="M402.8 34.9h0M402.8 36.7h0M402.8 38.5h0M402.8 40.3h0M402.8 49.5h0M402.8 58.6h0M402.8 59.8h0M402.8 60.9h0M402.8 65.1h0M402.8 67.0h0M402.8 68.8h0M402.8 70.7h0M402.8 72.5h0M402.8 81.3h0M402.8 83.2h0M402.8 85.2h0M402.8 87.2h0M402.8 89.2h0M402.8 96.2h0M402.8 110.8h0M402.8 120.9h0M402.8 133.3h0M402.8 151.7h0M402.8 176.2h0M402.8 187.1h0M402.8 224.9h0M402.8 249.6h0M402.8 255.2h0M402.8 261.7h0M402.8 285.8h0M402.8 205.4h0M402.8 207.0h0M402.8 208.7h0M402.8 320.1h0M402.8 331.2h0M402.8 341.2h0M402.8 354.9h0M402.8 356.6h0M402.8 358.2h0M402.8 367.1h0M402.8 397.5h0M402.8 399.5h0M402.8 401.6h0M402.8 403.7h0M402.8 405.7h0M402.8 407.8h0M402.8 409.8h0M402.8 411.9h0M402.8 414.0h0M402.8 421.3h0M402.8 426.4h0M402.8 428.6h0M402.8 430.8h0M402.8 433.0h0M402.8 435.2h0M402.8 437.3h0M402.8 444.7h0M402.8 453.1h0M402.8 454.8h0M402.8 456.5h0"/>
<path stroke="#99db90" d="M408.1 34.9h0M408.1 36.7h0M408.1 41.1h0M408.1 60.1h0M408.1 60.9h0M408.1 65.1h0M408.1 67.0h0M408.1 68.8h0M408.1 70.7h0M408.1 72.5h0M408.1 76.9h0M408.1 78.2h0M408.1 82.9h0M408.1 83.3h0M408.1 92.2h0M408.1 110.8h0M408.1 113.3h0M408.1 112.1h0M408.1 143.3h0M408.1 149.9h0M408.1 168.8h0M408.1 170.5h0M408.1 172.2h0M408.1 173.8h0M408.1 225.4h0M408.1 231.2h0M408.1 241.5h0M408.1 256.1h0M408.1 271.0h0M408.1 285.0h0M408.1 208.0h0M408.1 209.6h0M408.1 211.3h0M408.1 321.2h0M408.1 329.5h0M408.1 330.7h0M408.1 331.9h0M408.1 347.5h0M408.1 353.2h0M408.1 354.9h0M408.1 356.5h0M408.1 358.2h0M408.1 390.9h0M408.1 392.7h0M408.1 394.5h0M408.1 396.3h0M408.1 402.7h0M408.1 408.7h0M408.1 412.3h0M408.1 424.4h0M408.1 426.5h0M408.1 428.6h0M408.1 430.7h0M408.1 432.7h0M408.1 434.8h0M408.1 444.4h0M408.1 453.1h0M408.1 454.6h0M408.1 456.0h0"/>
<path stroke="#9fda8b" d="M413.5 34.6h0M413.5 42.1h0M413.5 53.2h0M413.5 60.5h0M413.5 72.4h0M413.5 82.9h0M413.5 84.1h0M413.5 85.3h0M413.5 104.8h0M413.5 111.8h0M413.5 120.4h0M413.5 148.9h0M413.5 161.2h0M413.5 169.6h0M413.5 203.5h0M413.5 225.4h0M413.5 240.8h0M413.5 278.0h0M413.5 284.1h0M413.5 209.7h0M413.5 211.4h0M413.5 213.0h0M413.5 308.4h0M413.5 336.4h0M413.5 351.4h0M413.5 353.1h0M413.5 354.7h0M413.5 361.8h0M413.5 371.5h0M413.5 378.5h0M413.5 389.6h0M413.5 399.7h0M413.5 407.7h0M413.5 410.8h0M413.5 422.4h0M413.5 423.2h0M413.5 428.9h0M413.5 429.8h0M413.5 444.2h0M413.5 453.6h0M413.5 455.5h0M413.5 197.1h0M413.5 321.1h0M413.5 328.0h0M413.5 359.4h0"/>
<path stroke="#a6da86" d="M418.8 35.6h0M418.8 43.1h0M418.8 60.8h0M418.8 75.9h0M418.8 80.9h0M418.8 82.8h0M418.8 84.6h0M418.8 86.5h0M418.8 88.3h0M418.8 107.8h0M418.8 113.3h0M418.8 142.4h0M418.8 150.3h0M418.8 202.6h0M418.8 225.4h0M418.8 240.8h0M418.8 262.2h0M418.8 277.2h0M418.8 278.9h0M418.8 280.6h0M418.8 282.3h0M418.8 284.0h0M418.8 210.6h0M418.8 212.7h0M418.8 214.8h0M418.8 308.4h0M418.8 321.6h0M418.8 323.3h0M418.8 325.0h0M418.8 326.7h0M418.8 328.4h0M418.8 361.7h0M418.8 383.5h0M418.8 396.1h0M418.8 409.3h0M418.8 419.5h0M418.8 427.6h0M418.8 443.2h0M418.8 452.6h0M418.8 454.1h0M418.8 455.5h0M418.8 147.8h0M418.8 151.3h0M418.8 193.8h0M418.8 198.9h0M418.8 201.0h0M418.8 205.1h0M418.8 350.7h0M418.8 351.8h0M418.8 352.9h0"/>
<path stroke="#add981" d="M424.2 35.6h0M424.2 39.1h0M424.2 47.2h0M424.2 51.2h0M424.2 62.8h0M424.2 82.9h0M424.2 84.9h0M424.2 86.8h0M424.2 93.7h0M424.2 108.8h0M424.2 114.4h0M424.2 177.7h0M424.2 187.5h0M424.2 267.5h0M424.2 276.2h0M424.2 284.3h0M424.2 299.3h0M424.2 326.0h0M424.2 350.3h0M424.2 352.2h0M424.2 354.0h0M424.2 355.9h0M424.2 362.4h0M424.2 376.9h0M424.2 391.9h0M424.2 406.4h0M424.2 416.2h0M424.2 425.4h0M424.2 417.8h0M424.2 441.7h0M424.2 443.0h0M424.2 444.3h0M424.2 452.7h0M424.2 454.0h0M424.2 455.3h0M424.2 139.2h0M424.2 141.2h0M424.2 143.3h0M424.2 145.3h0M424.2 147.3h0M424.2 149.4h0M424.2 200.2h0M424.2 202.3h0M424.2 204.5h0M424.2 210.1h0M424.2 212.0h0M424.2 213.8h0M424.2 215.7h0M424.2 224.8h0M424.2 242.3h0M424.2 311.1h0M424.2 312.9h0M424.2 314.7h0M424.2 376.1h0M424.2 378.2h0M424.2 380.3h0M424.2 415.0h0"/>
<path stroke="#b3d97c" d="M429.5 39.9h0M429.5 66.3h0M429.5 70.3h0M429.5 88.9h0M429.5 105.1h0M429.5 107.2h0M429.5 109.3h0M429.5 111.4h0M429.5 113.4h0M429.5 115.5h0M429.5 132.5h0M429.5 139.6h0M429.5 141.4h0M429.5 143.2h0M429.5 145.0h0M429.5 146.8h0M429.5 148.6h0M429.5 167.9h0M429.5 173.1h0M429.5 201.5h0M429.5 203.2h0M429.5 204.9h0M429.5 206.5h0M429.5 208.2h0M429.5 216.1h0M429.5 217.9h0M429.5 219.7h0M429.5 221.5h0M429.5 223.3h0M429.5 225.1h0M429.5 244.9h0M429.5 252.4h0M429.5 267.6h0M429.5 269.6h0M429.5 271.6h0M429.5 273.6h0M429.5 275.6h0M429.5 277.5h0M429.5 279.5h0M429.5 284.3h0M429.5 292.3h0M429.5 304.6h0M429.5 306.6h0M429.5 308.5h0M429.5 310.5h0M429.5 312.4h0M429.5 326.0h0M429.5 349.8h0M429.5 351.8h0M429.5 353.9h0M429.5 355.9h0M429.5 362.9h0M429.5 372.8h0M429.5 387.1h0M429.5 401.4h0M429.5 416.2h0M429.5 422.0h0M429.5 440.6h0M429.5 454.0h0"/>
<path stroke="#bad877" d="M434.9 101.1h0M434.9 103.0h0M434.9 104.8h0M434.9 106.7h0M434.9 108.6h0M434.9 110.5h0M434.9 116.9h0M434.9 128.5h0M434.9 138.4h0M434.9 140.5h0M434.9 142.5h0M434.9 144.6h0M434.9 149.1h0M434.9 161.3h0M434.9 162.8h0M434.9 164.3h0M434.9 189.3h0M434.9 193.3h0M434.9 201.5h0M434.9 203.2h0M434.9 204.9h0M434.9 206.5h0M434.9 208.2h0M434.9 214.9h0M434.9 216.9h0M434.9 218.8h0M434.9 220.7h0M434.9 222.6h0M434.9 224.5h0M434.9 236.2h0M434.9 248.3h0M434.9 254.1h0M434.9 257.0h0M434.9 261.6h0M434.9 268.2h0M434.9 270.4h0M434.9 272.6h0M434.9 274.8h0M434.9 276.9h0M434.9 279.1h0M434.9 281.3h0M434.9 283.5h0M434.9 285.7h0M434.9 287.9h0M434.9 290.0h0M434.9 292.2h0M434.9 298.8h0M434.9 301.0h0M434.9 303.2h0M434.9 310.4h0M434.9 312.4h0M434.9 325.5h0M434.9 326.8h0M434.9 328.2h0M434.9 347.3h0M434.9 352.7h0M434.9 354.7h0M434.9 356.7h0M434.9 358.8h0M434.9 365.8h0M434.9 370.4h0M434.9 386.2h0M434.9 416.0h0"/>
<path stroke="#c0d772" d="M440.2 102.1h0M440.2 104.2h0M440.2 106.3h0M440.2 108.5h0M440.2 111.8h0M440.2 118.4h0M440.2 110.2h0M440.2 127.9h0M440.2 139.6h0M440.2 141.2h0M440.2 142.9h0M440.2 144.6h0M440.2 149.1h0M440.2 159.2h0M440.2 197.9h0M440.2 204.4h0M440.2 206.3h0M440.2 208.2h0M440.2 221.3h0M440.2 223.2h0M440.2 225.1h0M440.2 230.0h0M440.2 232.0h0M440.2 238.5h0M440.2 242.5h0M440.2 252.4h0M440.2 269.9h0M440.2 271.7h0M440.2 273.5h0M440.2 275.3h0M440.2 277.1h0M440.2 278.9h0M440.2 285.0h0M440.2 286.3h0M440.2 287.6h0M440.2 296.7h0M440.2 301.6h0M440.2 306.8h0M440.2 313.1h0M440.2 326.7h0M440.2 328.6h0M440.2 330.5h0M440.2 338.1h0M440.2 350.2h0M440.2 356.1h0M440.2 357.7h0M440.2 359.4h0M440.2 365.4h0M440.2 366.9h0M440.2 387.3h0M440.2 415.9h0"/>
<path stroke="#c6d66e" d="M445.6 102.6h0M445.6 104.4h0M445.6 106.2h0M445.6 108.0h0M445.6 112.8h0M445.6 119.4h0M445.6 128.5h0M445.6 140.2h0M445.6 142.4h0M445.6 144.6h0M445.6 149.1h0M445.6 156.8h0M445.6 190.4h0M445.6 198.1h0M445.6 200.2h0M445.6 202.4h0M445.6 204.6h0M445.6 206.8h0M445.6 208.9h0M445.6 211.1h0M445.6 220.7h0M445.6 222.6h0M445.6 224.5h0M445.6 226.4h0M445.6 228.3h0M445.6 230.1h0M445.6 232.0h0M445.6 258.1h0M445.6 262.2h0M445.6 269.9h0M445.6 272.1h0M445.6 274.2h0M445.6 276.3h0M445.6 278.5h0M445.6 280.6h0M445.6 282.8h0M445.6 284.9h0M445.6 287.0h0M445.6 295.8h0M445.6 301.1h0M445.6 302.8h0M445.6 304.5h0M445.6 306.1h0M445.6 307.8h0M445.6 314.4h0M445.6 316.0h0M445.6 317.6h0M445.6 327.2h0M445.6 329.4h0M445.6 331.6h0M445.6 340.4h0M445.6 358.9h0M445.6 368.7h0M445.6 389.1h0M445.6 415.7h0"/>
<path stroke="#ccd56b" d="M450.9 103.1h0M450.9 104.7h0M450.9 106.3h0M450.9 108.0h0M450.9 113.9h0M450.9 121.4h0M450.9 129.7h0M450.9 139.6h0M450.9 141.2h0M450.9 142.9h0M450.9 144.6h0M450.9 148.7h0M450.9 156.2h0M450.9 182.9h0M450.9 193.3h0M450.9 199.8h0M450.9 201.7h0M450.9 203.6h0M450.9 205.4h0M450.9 207.3h0M450.9 209.2h0M450.9 211.1h0M450.9 210.2h0M450.9 224.2h0M450.9 226.2h0M450.9 228.3h0M450.9 230.3h0M450.9 236.2h0M450.9 248.7h0M450.9 263.3h0M450.9 269.4h0M450.9 271.3h0M450.9 273.2h0M450.9 275.1h0M450.9 277.0h0M450.9 278.9h0M450.9 284.4h0M450.9 285.7h0M450.9 287.0h0M450.9 295.3h0M450.9 297.0h0M450.9 298.7h0M450.9 300.3h0M450.9 308.1h0M450.9 310.1h0M450.9 316.1h0M450.9 317.8h0M450.9 319.5h0M450.9 321.1h0M450.9 329.0h0M450.9 330.8h0M450.9 332.7h0M450.9 334.5h0M450.9 351.0h0M450.9 359.6h0M450.9 360.9h0M450.9 362.2h0M450.9 371.0h0M450.9 390.6h0M450.9 415.7h0"/>
<path stroke="#d2d467" d="M456.3 104.4h0M456.3 106.4h0M456.3 108.4h0M456.3 110.5h0M456.3 115.4h0M456.3 123.3h0M456.3 132.0h0M456.3 139.0h0M456.3 140.6h0M456.3 142.2h0M456.3 148.7h0M456.3 155.6h0M456.3 157.5h0M456.3 159.1h0M456.3 176.6h0M456.3 187.5h0M456.3 191.6h0M456.3 201.5h0M456.3 203.4h0M456.3 205.4h0M456.3 207.3h0M456.3 209.2h0M456.3 211.1h0M456.3 213.1h0M456.3 214.8h0M456.3 216.4h0M456.3 230.0h0M456.3 231.6h0M456.3 233.2h0M456.3 240.2h0M456.3 269.4h0M456.3 271.2h0M456.3 273.0h0M456.3 274.8h0M456.3 276.6h0M456.3 278.4h0M456.3 284.4h0M456.3 286.6h0M456.3 288.8h0M456.3 295.9h0M456.3 297.8h0M456.3 299.7h0M456.3 308.1h0M456.3 310.1h0M456.3 318.5h0M456.3 319.8h0M456.3 321.1h0M456.3 316.9h0M456.3 325.4h0M456.3 332.1h0M456.3 336.5h0M456.3 338.7h0M456.3 340.9h0M456.3 361.2h0M456.3 367.0h0M456.3 372.8h0M456.3 391.7h0M456.3 415.6h0"/>
<path stroke="#d8d265" d="M461.6 105.5h0M461.6 107.4h0M461.6 109.2h0M461.6 111.1h0M461.6 116.4h0M461.6 125.3h0M461.6 134.4h0M461.6 136.5h0M461.6 138.6h0M461.6 140.7h0M461.6 142.8h0M461.6 148.8h0M461.6 150.6h0M461.6 152.4h0M461.6 154.2h0M461.6 156.0h0M461.6 157.8h0M461.6 159.1h0M461.6 173.1h0M461.6 179.1h0M461.6 185.2h0M461.6 202.7h0M461.6 204.8h0M461.6 206.9h0M461.6 209.0h0M461.6 211.1h0M461.6 212.3h0M461.6 214.1h0M461.6 215.9h0M461.6 233.4h0M461.6 234.7h0M461.6 236.1h0M461.6 244.6h0M461.6 269.4h0M461.6 271.5h0M461.6 273.6h0M461.6 275.7h0M461.6 277.8h0M461.6 283.8h0M461.6 285.1h0M461.6 286.5h0M461.6 294.2h0M461.6 296.3h0M461.6 298.4h0M461.6 300.5h0M461.6 302.6h0M461.6 309.2h0M461.6 310.8h0M461.6 312.4h0M461.6 318.5h0M461.6 319.8h0M461.6 321.1h0M461.6 316.9h0M461.6 327.8h0M461.6 329.5h0M461.6 331.1h0M461.6 332.8h0M461.6 339.5h0M461.6 364.1h0M461.6 371.1h0M461.6 372.8h0M461.6 374.5h0M461.6 376.1h0M461.6 392.9h0M461.6 415.6h0"/>
<path stroke="#ddd164" d="M467.0 106.1h0M467.0 108.1h0M467.0 110.2h0M467.0 112.2h0M467.0 117.8h0M467.0 127.3h0M467.0 137.9h0M467.0 139.5h0M467.0 141.2h0M467.0 142.8h0M467.0 148.7h0M467.0 156.8h0M467.0 158.1h0M467.0 159.7h0M467.0 172.5h0M467.0 185.2h0M467.0 196.9h0M467.0 198.6h0M467.0 200.2h0M467.0 201.9h0M467.0 203.6h0M467.0 213.2h0M467.0 214.9h0M467.0 216.6h0M467.0 218.2h0M467.0 219.9h0M467.0 236.9h0M467.0 238.5h0M467.0 240.1h0M467.0 248.9h0M467.0 269.4h0M467.0 271.3h0M467.0 273.3h0M467.0 275.2h0M467.0 277.2h0M467.0 283.2h0M467.0 284.8h0M467.0 286.5h0M467.0 297.1h0M467.0 299.0h0M467.0 300.9h0M467.0 308.1h0M467.0 309.7h0M467.0 311.3h0M467.0 318.5h0M467.0 319.8h0M467.0 321.1h0M467.0 323.5h0M467.0 330.6h0M467.0 336.4h0M467.0 342.7h0M467.0 367.0h0M467.0 373.5h0M467.0 374.8h0M467.0 376.1h0M467.0 376.9h0M467.0 378.5h0M467.0 394.6h0M467.0 415.6h0"/>
<path stroke="#e2d064" d="M472.3 107.2h0M472.3 109.3h0M472.3 111.3h0M472.3 113.4h0M472.3 119.3h0M472.3 129.7h0M472.3 137.9h0M472.3 139.7h0M472.3 141.6h0M472.3 143.4h0M472.3 148.7h0M472.3 157.6h0M472.3 159.2h0M472.3 160.9h0M472.3 170.2h0M472.3 174.3h0M472.3 186.0h0M472.3 196.8h0M472.3 207.2h0M472.3 216.0h0M472.3 221.7h0M472.3 240.9h0M472.3 243.0h0M472.3 254.7h0M472.3 268.8h0M472.3 270.7h0M472.3 272.7h0M472.3 274.7h0M472.3 276.6h0M472.3 285.5h0M472.3 287.7h0M472.3 289.9h0M472.3 297.7h0M472.3 299.7h0M472.3 306.3h0M472.3 308.2h0M472.3 310.0h0M472.3 311.9h0M472.3 319.6h0M472.3 321.1h0M472.3 322.4h0M472.3 327.1h0M472.3 332.9h0M472.3 338.7h0M472.3 345.0h0M472.3 370.4h0M472.3 378.2h0M472.3 380.3h0M472.3 396.0h0M472.3 415.4h0"/>
<path stroke="#e7cf65" d="M477.7 107.8h0M477.7 109.5h0M477.7 111.2h0M477.7 112.8h0M477.7 114.5h0M477.7 120.6h0M477.7 132.2h0M477.7 137.9h0M477.7 139.9h0M477.7 141.9h0M477.7 144.0h0M477.7 149.1h0M477.7 157.6h0M477.7 159.8h0M477.7 162.0h0M477.7 164.2h0M477.7 166.3h0M477.7 168.5h0M477.7 170.7h0M477.7 177.7h0M477.7 187.5h0M477.7 193.9h0M477.7 208.9h0M477.7 217.7h0M477.7 224.6h0M477.7 245.5h0M477.7 247.5h0M477.7 249.4h0M477.7 259.3h0M477.7 268.2h0M477.7 270.0h0M477.7 271.8h0M477.7 273.6h0M477.7 275.4h0M477.7 277.2h0M477.7 286.1h0M477.7 287.6h0M477.7 296.5h0M477.7 298.1h0M477.7 299.7h0M477.7 305.7h0M477.7 307.4h0M477.7 309.1h0M477.7 310.8h0M477.7 312.4h0M477.7 318.5h0M477.7 319.8h0M477.7 321.1h0M477.7 322.5h0M477.7 324.1h0M477.7 331.9h0M477.7 333.5h0M477.7 335.1h0M477.7 341.6h0M477.7 348.5h0M477.7 374.5h0M477.7 382.2h0M477.7 383.7h0M477.7 397.7h0M477.7 415.4h0"/>
<path stroke="#ecce67" d="M483.0 109.0h0M483.0 110.7h0M483.0 112.3h0M483.0 114.0h0M483.0 115.7h0M483.0 122.1h0M483.0 135.5h0M483.0 137.7h0M483.0 139.8h0M483.0 141.9h0M483.0 144.0h0M483.0 148.8h0M483.0 149.8h0M483.0 157.6h0M483.0 159.2h0M483.0 160.9h0M483.0 168.0h0M483.0 169.3h0M483.0 170.7h0M483.0 174.8h0M483.0 180.0h0M483.0 189.9h0M483.0 193.9h0M483.0 210.1h0M483.0 220.6h0M483.0 226.9h0M483.0 250.2h0M483.0 252.2h0M483.0 265.1h0M483.0 265.9h0M483.0 268.0h0M483.0 270.2h0M483.0 272.3h0M483.0 274.5h0M483.0 276.6h0M483.0 286.7h0M483.0 287.6h0M483.0 297.1h0M483.0 298.9h0M483.0 300.8h0M483.0 302.6h0M483.0 306.3h0M483.0 308.1h0M483.0 310.0h0M483.0 311.8h0M483.0 313.6h0M483.0 321.5h0M483.0 323.1h0M483.0 324.7h0M483.0 335.3h0M483.0 336.7h0M483.0 338.0h0M483.0 343.9h0M483.0 352.0h0M483.0 378.3h0M483.0 386.2h0M483.0 399.2h0M483.0 415.4h0"/>
<path stroke="#f0ce6a" d="M488.4 110.1h0M488.4 112.1h0M488.4 114.1h0M488.4 116.0h0M488.4 118.0h0M488.4 123.9h0M488.4 137.9h0M488.4 139.5h0M488.4 141.2h0M488.4 142.8h0M488.4 148.8h0M488.4 151.0h0M488.4 153.2h0M488.4 158.8h0M488.4 160.1h0M488.4 161.4h0M488.4 168.6h0M488.4 170.8h0M488.4 173.0h0M488.4 182.9h0M488.4 191.1h0M488.4 192.7h0M488.4 194.4h0M488.4 212.4h0M488.4 223.5h0M488.4 231.6h0M488.4 255.4h0M488.4 257.0h0M488.4 258.6h0M488.4 267.6h0M488.4 269.4h0M488.4 271.2h0M488.4 273.0h0M488.4 274.8h0M488.4 276.6h0M488.4 286.7h0M488.4 287.6h0M488.4 297.7h0M488.4 299.7h0M488.4 304.6h0M488.4 306.6h0M488.4 308.5h0M488.4 310.5h0M488.4 312.4h0M488.4 322.6h0M488.4 324.8h0M488.4 327.0h0M488.4 337.6h0M488.4 339.5h0M488.4 341.5h0M488.4 346.2h0M488.4 355.4h0M488.4 381.6h0M488.4 389.1h0M488.4 400.6h0M488.4 415.3h0"/>
<path stroke="#f4cd6e" d="M493.7 111.3h0M493.7 113.3h0M493.7 115.2h0M493.7 117.2h0M493.7 119.1h0M493.7 126.2h0M493.7 137.3h0M493.7 139.5h0M493.7 141.7h0M493.7 148.8h0M493.7 150.6h0M493.7 152.5h0M493.7 154.3h0M493.7 156.1h0M493.7 153.5h0M493.7 155.1h0M493.7 159.9h0M493.7 161.8h0M493.7 163.7h0M493.7 169.2h0M493.7 171.0h0M493.7 172.8h0M493.7 174.6h0M493.7 176.5h0M493.7 185.8h0M493.7 192.3h0M493.7 194.5h0M493.7 196.7h0M493.7 214.9h0M493.7 216.3h0M493.7 217.6h0M493.7 226.9h0M493.7 234.8h0M493.7 261.1h0M493.7 262.8h0M493.7 264.5h0M493.7 266.1h0M493.7 268.5h0M493.7 273.4h0M493.7 275.3h0M493.7 277.2h0M493.7 286.7h0M493.7 287.6h0M493.7 297.1h0M493.7 299.2h0M493.7 301.3h0M493.7 303.4h0M493.7 305.5h0M493.7 315.6h0M493.7 316.9h0M493.7 318.2h0M493.7 325.5h0M493.7 326.8h0M493.7 328.2h0M493.7 340.5h0M493.7 341.9h0M493.7 343.2h0M493.7 349.7h0M493.7 358.9h0M493.7 385.0h0M493.7 391.5h0M493.7 393.6h0M493.7 401.4h0M493.7 415.1h0"/>
<path stroke="#f8cd72" d="M499.1 112.4h0M499.1 114.1h0M499.1 115.7h0M499.1 121.0h0M499.1 128.7h0M499.1 137.3h0M499.1 139.2h0M499.1 141.1h0M499.1 148.3h0M499.1 149.6h0M499.1 150.9h0M499.1 158.8h0M499.1 160.6h0M499.1 162.5h0M499.1 164.3h0M499.1 169.2h0M499.1 171.1h0M499.1 173.0h0M499.1 179.5h0M499.1 187.5h0M499.1 192.9h0M499.1 195.1h0M499.1 197.2h0M499.1 217.2h0M499.1 218.6h0M499.1 219.9h0M499.1 230.4h0M499.1 239.1h0M499.1 265.8h0M499.1 267.8h0M499.1 270.8h0M499.1 272.9h0M499.1 275.1h0M499.1 277.2h0M499.1 285.0h0M499.1 286.6h0M499.1 288.2h0M499.1 296.5h0M499.1 298.3h0M499.1 300.1h0M499.1 301.9h0M499.1 303.7h0M499.1 305.5h0M499.1 317.3h0M499.1 319.2h0M499.1 321.1h0M499.1 320.1h0M499.1 327.2h0M499.1 328.6h0M499.1 329.9h0M499.1 341.7h0M499.1 343.0h0M499.1 344.3h0M499.1 353.1h0M499.1 362.4h0M499.1 388.3h0M499.1 393.8h0M499.1 395.4h0M499.1 397.0h0M499.1 402.3h0M499.1 415.1h0"/>
<path stroke="#fbce73" d="M504.4 114.2h0M504.4 115.5h0M504.4 116.8h0M504.4 122.7h0M504.4 130.8h0M504.4 137.3h0M504.4 139.2h0M504.4 141.1h0M504.4 148.3h0M504.4 149.6h0M504.4 150.9h0M504.4 160.5h0M504.4 162.1h0M504.4 163.7h0M504.4 169.2h0M504.4 170.8h0M504.4 172.4h0M504.4 181.8h0M504.4 189.9h0M504.4 194.0h0M504.4 195.9h0M504.4 197.8h0M504.4 220.1h0M504.4 222.2h0M504.4 233.9h0M504.4 243.1h0M504.4 267.6h0M504.4 269.1h0M504.4 273.4h0M504.4 275.6h0M504.4 277.8h0M504.4 287.3h0M504.4 289.5h0M504.4 291.6h0M504.4 296.5h0M504.4 298.4h0M504.4 300.3h0M504.4 302.3h0M504.4 304.2h0M504.4 306.1h0M504.4 318.5h0M504.4 319.8h0M504.4 321.1h0M504.4 324.9h0M504.4 326.9h0M504.4 328.8h0M504.4 330.7h0M504.4 332.6h0M504.4 334.5h0M504.4 343.4h0M504.4 344.9h0M504.4 356.6h0M504.4 366.4h0M504.4 390.8h0M504.4 395.5h0M504.4 397.0h0M504.4 403.2h0M504.4 414.8h0"/>
<path stroke="#fed073" d="M509.8 115.3h0M509.8 116.9h0M509.8 118.6h0M509.8 125.0h0M509.8 133.8h0M509.8 135.6h0M509.8 137.5h0M509.8 139.3h0M509.8 141.1h0M509.8 148.8h0M509.8 150.2h0M509.8 151.5h0M509.8 161.7h0M509.8 163.0h0M509.8 164.3h0M509.8 168.0h0M509.8 169.7h0M509.8 171.3h0M509.8 173.0h0M509.8 184.1h0M509.8 191.7h0M509.8 193.5h0M509.8 195.3h0M509.8 197.2h0M509.8 199.0h0M509.8 222.4h0M509.8 224.1h0M509.8 225.7h0M509.8 237.9h0M509.8 248.0h0M509.8 267.0h0M509.8 268.0h0M509.8 273.4h0M509.8 275.1h0M509.8 276.7h0M509.8 278.4h0M509.8 280.1h0M509.8 284.4h0M509.8 286.4h0M509.8 288.5h0M509.8 290.5h0M509.8 295.3h0M509.8 297.4h0M509.8 299.4h0M509.8 301.4h0M509.8 303.5h0M509.8 305.5h0M509.8 319.2h0M509.8 320.7h0M509.8 329.6h0M509.8 331.7h0M509.8 333.8h0M509.8 335.9h0M509.8 338.0h0M509.8 345.2h0M509.8 346.6h0M509.8 360.6h0M509.8 370.4h0M509.8 393.2h0M509.8 395.1h0M509.8 397.0h0M509.8 404.1h0M509.8 414.8h0"/>
<path stroke="#fed271" d="M515.1 117.1h0M515.1 118.7h0M515.1 120.3h0M515.1 127.3h0M515.1 136.1h0M515.1 137.8h0M515.1 139.4h0M515.1 141.1h0M515.1 148.8h0M515.1 150.6h0M515.1 152.5h0M515.1 154.3h0M515.1 156.1h0M515.1 161.7h0M515.1 163.7h0M515.1 169.8h0M515.1 171.3h0M515.1 187.0h0M515.1 192.3h0M515.1 194.0h0M515.1 195.6h0M515.1 197.3h0M515.1 199.0h0M515.1 225.9h0M515.1 227.5h0M515.1 229.1h0M515.1 242.0h0M515.1 252.4h0M515.1 267.0h0M515.1 268.0h0M515.1 274.0h0M515.1 275.3h0M515.1 276.6h0M515.1 285.5h0M515.1 287.2h0M515.1 288.8h0M515.1 290.5h0M515.1 295.3h0M515.1 297.4h0M515.1 299.4h0M515.1 301.4h0M515.1 303.5h0M515.1 305.5h0M515.1 320.9h0M515.1 323.0h0M515.1 333.0h0M515.1 334.7h0M515.1 336.4h0M515.1 338.0h0M515.1 339.7h0M515.1 345.7h0M515.1 347.2h0M515.1 364.7h0M515.1 374.5h0M515.1 395.5h0M515.1 396.9h0M515.1 398.2h0M515.1 404.7h0M515.1 409.9h0M515.1 414.5h0"/>
<path stroke="#fed56f" d="M520.5 119.4h0M520.5 121.0h0M520.5 122.6h0M520.5 129.7h0M520.5 136.7h0M520.5 138.4h0M520.5 140.0h0M520.5 141.7h0M520.5 149.4h0M520.5 151.5h0M520.5 159.4h0M520.5 161.0h0M520.5 162.7h0M520.5 164.3h0M520.5 169.8h0M520.5 171.9h0M520.5 174.1h0M520.5 188.1h0M520.5 192.3h0M520.5 194.0h0M520.5 195.6h0M520.5 197.3h0M520.5 199.0h0M520.5 229.4h0M520.5 231.0h0M520.5 232.6h0M520.5 246.6h0M520.5 257.6h0M520.5 266.5h0M520.5 268.0h0M520.5 274.0h0M520.5 275.3h0M520.5 276.6h0M520.5 287.8h0M520.5 289.8h0M520.5 291.8h0M520.5 293.7h0M520.5 295.7h0M520.5 297.7h0M520.5 299.6h0M520.5 301.6h0M520.5 303.5h0M520.5 305.5h0M520.5 310.2h0M520.5 322.6h0M520.5 324.1h0M520.5 335.9h0M520.5 337.9h0M520.5 339.9h0M520.5 341.9h0M520.5 343.8h0M520.5 345.8h0M520.5 347.8h0M520.5 368.7h0M520.5 376.7h0M520.5 396.7h0M520.5 398.8h0M520.5 404.7h0M520.5 413.4h0M520.5 414.4h0"/>
<path stroke="#fed76d" d="M525.8 121.1h0M525.8 123.3h0M525.8 125.5h0M525.8 132.5h0M525.8 136.1h0M525.8 138.0h0M525.8 139.8h0M525.8 141.7h0M525.8 149.4h0M525.8 150.7h0M525.8 152.1h0M525.8 162.2h0M525.8 163.7h0M525.8 168.6h0M525.8 169.9h0M525.8 171.3h0M525.8 176.8h0M525.8 189.4h0M525.8 191.3h0M525.8 193.2h0M525.8 195.1h0M525.8 197.1h0M525.8 199.0h0M525.8 232.8h0M525.8 234.5h0M525.8 236.1h0M525.8 251.2h0M525.8 263.5h0M525.8 264.8h0M525.8 266.1h0M525.8 268.0h0M525.8 274.0h0M525.8 275.3h0M525.8 276.6h0M525.8 288.4h0M525.8 290.6h0M525.8 292.7h0M525.8 294.8h0M525.8 297.0h0M525.8 299.1h0M525.8 301.2h0M525.8 303.4h0M525.8 305.5h0M525.8 315.4h0M525.8 324.9h0M525.8 326.4h0M525.8 338.2h0M525.8 340.1h0M525.8 342.1h0M525.8 344.0h0M525.8 345.9h0M525.8 347.8h0M525.8 371.6h0M525.8 379.8h0M525.8 397.8h0M525.8 399.7h0M525.8 401.5h0M525.8 403.3h0M525.8 405.1h0M525.8 414.0h0M525.8 415.9h0M525.8 417.8h0"/>
<path stroke="#feda6b" d="M531.2 123.4h0M531.2 125.3h0M531.2 127.2h0M531.2 135.5h0M531.2 137.2h0M531.2 138.9h0M531.2 140.6h0M531.2 142.2h0M531.2 146.5h0M531.2 148.2h0M531.2 149.9h0M531.2 151.5h0M531.2 153.2h0M531.2 162.2h0M531.2 163.9h0M531.2 165.5h0M531.2 169.2h0M531.2 171.3h0M531.2 179.5h0M531.2 191.1h0M531.2 193.1h0M531.2 195.1h0M531.2 197.0h0M531.2 199.0h0M531.2 236.3h0M531.2 238.2h0M531.2 240.1h0M531.2 256.4h0M531.2 266.5h0M531.2 268.1h0M531.2 269.7h0M531.2 274.0h0M531.2 275.3h0M531.2 276.6h0M531.2 288.4h0M531.2 290.6h0M531.2 292.7h0M531.2 294.8h0M531.2 297.0h0M531.2 299.1h0M531.2 301.2h0M531.2 303.4h0M531.2 305.5h0M531.2 309.7h0M531.2 320.1h0M531.2 321.2h0M531.2 326.7h0M531.2 328.7h0M531.2 340.0h0M531.2 341.9h0M531.2 343.9h0M531.2 345.8h0M531.2 347.8h0M531.2 375.6h0M531.2 382.7h0M531.2 399.0h0M531.2 401.0h0M531.2 403.1h0M531.2 405.1h0M531.2 414.1h0M531.2 420.8h0"/>
<path stroke="#fddd6a" d="M536.5 125.2h0M536.5 127.1h0M536.5 129.0h0M536.5 136.1h0M536.5 138.2h0M536.5 140.2h0M536.5 142.2h0M536.5 149.4h0M536.5 150.7h0M536.5 152.1h0M536.5 162.8h0M536.5 163.7h0M536.5 169.2h0M536.5 171.3h0M536.5 181.8h0M536.5 191.7h0M536.5 193.5h0M536.5 195.3h0M536.5 197.2h0M536.5 199.0h0M536.5 240.9h0M536.5 242.8h0M536.5 244.7h0M536.5 262.3h0M536.5 264.2h0M536.5 266.1h0M536.5 267.4h0M536.5 274.6h0M536.5 275.9h0M536.5 277.2h0M536.5 288.4h0M536.5 290.5h0M536.5 292.5h0M536.5 294.6h0M536.5 296.7h0M536.5 298.7h0M536.5 300.8h0M536.5 302.9h0M536.5 304.9h0M536.5 310.8h0M536.5 315.4h0M536.5 324.9h0M536.5 326.8h0M536.5 328.6h0M536.5 330.4h0M536.5 332.2h0M536.5 341.7h0M536.5 343.6h0M536.5 345.5h0M536.5 347.4h0M536.5 349.4h0M536.5 351.3h0M536.5 378.1h0M536.5 385.0h0M536.5 399.6h0M536.5 401.4h0M536.5 403.3h0M536.5 405.1h0M536.5 413.9h0M536.5 424.9h0"/>
<path stroke="#fce068" d="M541.9 128.0h0M541.9 129.7h0M541.9 131.3h0M541.9 136.1h0M541.9 138.2h0M541.9 140.2h0M541.9 142.2h0M541.9 150.0h0M541.9 151.3h0M541.9 152.6h0M541.9 162.8h0M541.9 163.7h0M541.9 168.0h0M541.9 170.1h0M541.9 172.1h0M541.9 174.1h0M541.9 184.1h0M541.9 192.3h0M541.9 194.0h0M541.9 195.6h0M541.9 197.3h0M541.9 199.0h0M541.9 245.5h0M541.9 247.5h0M541.9 249.4h0M541.9 267.0h0M541.9 268.0h0M541.9 274.6h0M541.9 276.6h0M541.9 281.4h0M541.9 288.4h0M541.9 290.4h0M541.9 292.4h0M541.9 294.4h0M541.9 296.4h0M541.9 298.4h0M541.9 300.4h0M541.9 302.4h0M541.9 304.4h0M541.9 316.6h0M541.9 321.2h0M541.9 328.4h0M541.9 330.2h0M541.9 332.1h0M541.9 333.9h0M541.9 342.8h0M541.9 344.7h0M541.9 346.5h0M541.9 348.3h0M541.9 350.1h0M541.9 354.9h0M541.9 381.2h0M541.9 387.1h0M541.9 399.6h0M541.9 401.4h0M541.9 403.3h0M541.9 405.1h0M541.9 413.9h0M541.9 428.3h0"/>
<path stroke="#fae367" d="M547.2 130.9h0M547.2 133.0h0M547.2 135.0h0M547.2 137.0h0M547.2 139.0h0M547.2 141.1h0M547.2 143.1h0M547.2 145.1h0M547.2 150.6h0M547.2 151.9h0M547.2 153.2h0M547.2 155.5h0M547.2 157.4h0M547.2 162.8h0M547.2 163.2h0M547.2 168.0h0M547.2 170.1h0M547.2 176.0h0M547.2 186.4h0M547.2 191.7h0M547.2 193.5h0M547.2 195.3h0M547.2 197.2h0M547.2 199.0h0M547.2 250.2h0M547.2 252.4h0M547.2 254.6h0M547.2 266.5h0M547.2 268.0h0M547.2 273.4h0M547.2 275.6h0M547.2 277.8h0M547.2 287.8h0M547.2 289.9h0M547.2 292.0h0M547.2 294.0h0M547.2 296.1h0M547.2 298.2h0M547.2 300.2h0M547.2 302.3h0M547.2 304.4h0M547.2 320.6h0M547.2 326.0h0M547.2 331.9h0M547.2 333.7h0M547.2 335.6h0M547.2 337.4h0M547.2 343.4h0M547.2 345.5h0M547.2 347.6h0M547.2 349.7h0M547.2 351.8h0M547.2 358.9h0M547.2 385.0h0M547.2 389.1h0M547.2 400.2h0M547.2 401.8h0M547.2 403.5h0M547.2 405.1h0M547.2 413.7h0M547.2 431.2h0"/>
<path stroke="#f9e666" d="M552.6 133.8h0M552.6 135.6h0M552.6 137.4h0M552.6 139.2h0M552.6 141.0h0M552.6 142.8h0M552.6 149.4h0M552.6 151.1h0M552.6 152.8h0M552.6 154.4h0M552.6 156.1h0M552.6 161.1h0M552.6 163.0h0M552.6 164.9h0M552.6 166.8h0M552.6 168.8h0M552.6 170.7h0M552.6 178.3h0M552.6 187.7h0M552.6 189.5h0M552.6 191.4h0M552.6 193.3h0M552.6 195.2h0M552.6 197.1h0M552.6 199.0h0M552.6 254.8h0M552.6 256.4h0M552.6 258.1h0M552.6 259.8h0M552.6 266.5h0M552.6 268.0h0M552.6 274.6h0M552.6 276.6h0M552.6 278.6h0M552.6 280.7h0M552.6 287.8h0M552.6 289.8h0M552.6 291.8h0M552.6 293.8h0M552.6 295.8h0M552.6 297.8h0M552.6 299.8h0M552.6 301.8h0M552.6 303.8h0M552.6 324.8h0M552.6 330.1h0M552.6 332.1h0M552.6 334.1h0M552.6 336.1h0M552.6 338.1h0M552.6 340.1h0M552.6 342.1h0M552.6 344.1h0M552.6 346.1h0M552.6 348.1h0M552.6 350.1h0M552.6 355.4h0M552.6 361.8h0M552.6 386.3h0M552.6 388.5h0M552.6 390.7h0M552.6 400.2h0M552.6 401.8h0M552.6 403.5h0M552.6 405.1h0M552.6 413.7h0M552.6 434.7h0"/>
<path stroke="#f8e964" d="M557.9 136.7h0M557.9 138.4h0M557.9 140.1h0M557.9 141.7h0M557.9 143.4h0M557.9 151.1h0M557.9 152.5h0M557.9 153.8h0M557.9 162.2h0M557.9 164.0h0M557.9 165.8h0M557.9 167.7h0M557.9 169.5h0M557.9 171.3h0M557.9 180.6h0M557.9 189.4h0M557.9 191.3h0M557.9 193.2h0M557.9 195.1h0M557.9 197.1h0M557.9 199.0h0M557.9 259.4h0M557.9 261.1h0M557.9 262.8h0M557.9 264.4h0M557.9 266.1h0M557.9 268.0h0M557.9 274.6h0M557.9 276.7h0M557.9 278.9h0M557.9 286.1h0M557.9 288.2h0M557.9 290.4h0M557.9 292.5h0M557.9 294.7h0M557.9 296.8h0M557.9 298.9h0M557.9 301.1h0M557.9 303.2h0M557.9 328.9h0M557.9 333.6h0M557.9 335.6h0M557.9 337.6h0M557.9 339.6h0M557.9 341.6h0M557.9 343.6h0M557.9 345.6h0M557.9 347.5h0M557.9 349.5h0M557.9 358.9h0M557.9 365.2h0M557.9 388.0h0M557.9 389.9h0M557.9 391.8h0M557.9 400.2h0M557.9 401.8h0M557.9 403.5h0M557.9 405.1h0M557.9 413.7h0M557.9 437.1h0"/>
<path stroke="#f8ec63" d="M563.3 137.9h0M563.3 139.5h0M563.3 141.2h0M563.3 142.9h0M563.3 144.6h0M563.3 152.3h0M563.3 154.2h0M563.3 156.1h0M563.3 158.1h0M563.3 160.2h0M563.3 162.3h0M563.3 164.4h0M563.3 166.5h0M563.3 168.6h0M563.3 170.7h0M563.3 182.3h0M563.3 188.2h0M563.3 190.4h0M563.3 192.5h0M563.3 194.7h0M563.3 196.8h0M563.3 199.0h0M563.3 265.3h0M563.3 267.5h0M563.3 269.7h0M563.3 271.8h0M563.3 274.0h0M563.3 276.2h0M563.3 278.4h0M563.3 286.7h0M563.3 288.8h0M563.3 291.0h0M563.3 293.2h0M563.3 295.3h0M563.3 297.5h0M563.3 299.6h0M563.3 301.8h0M563.3 303.9h0M563.3 306.1h0M563.3 332.3h0M563.3 337.1h0M563.3 339.2h0M563.3 341.4h0M563.3 343.6h0M563.3 345.8h0M563.3 347.9h0M563.3 350.1h0M563.3 362.4h0M563.3 368.7h0M563.3 389.2h0M563.3 391.1h0M563.3 393.0h0M563.3 400.2h0M563.3 401.8h0M563.3 403.5h0M563.3 405.1h0M563.3 413.4h0M563.3 439.1h0"/>
<path stroke="#f8ee62" d="M568.6 137.9h0M568.6 140.1h0M568.6 142.2h0M568.6 144.4h0M568.6 146.6h0M568.6 148.8h0M568.6 151.0h0M568.6 153.2h0M568.6 151.9h0M568.6 159.9h0M568.6 161.8h0M568.6 163.7h0M568.6 165.6h0M568.6 167.5h0M568.6 169.4h0M568.6 171.3h0M568.6 184.1h0M568.6 190.5h0M568.6 192.7h0M568.6 194.8h0M568.6 196.9h0M568.6 199.0h0M568.6 266.5h0M568.6 268.5h0M568.6 270.4h0M568.6 272.4h0M568.6 274.4h0M568.6 276.4h0M568.6 278.4h0M568.6 286.7h0M568.6 288.7h0M568.6 290.7h0M568.6 292.7h0M568.6 294.7h0M568.6 296.6h0M568.6 298.6h0M568.6 300.6h0M568.6 302.6h0M568.6 310.8h0M568.6 334.6h0M568.6 339.4h0M568.6 341.3h0M568.6 343.1h0M568.6 345.0h0M568.6 346.9h0M568.6 348.8h0M568.6 350.7h0M568.6 365.8h0M568.6 371.6h0M568.6 390.9h0M568.6 392.2h0M568.6 393.6h0M568.6 400.2h0M568.6 401.8h0M568.6 403.5h0M568.6 405.1h0M568.6 413.3h0M568.6 440.8h0"/>
<path stroke="#f8f160" d="M574.0 137.9h0M574.0 140.0h0M574.0 142.2h0M574.0 144.4h0M574.0 146.6h0M574.0 148.7h0M574.0 150.9h0M574.0 151.9h0M574.0 152.8h0M574.0 160.5h0M574.0 162.3h0M574.0 164.1h0M574.0 165.9h0M574.0 167.7h0M574.0 169.5h0M574.0 174.3h0M574.0 185.2h0M574.0 191.1h0M574.0 193.1h0M574.0 195.1h0M574.0 197.0h0M574.0 199.0h0M574.0 266.5h0M574.0 267.4h0M574.0 274.6h0M574.0 276.2h0M574.0 277.8h0M574.0 283.2h0M574.0 285.2h0M574.0 287.3h0M574.0 289.3h0M574.0 291.3h0M574.0 293.4h0M574.0 295.4h0M574.0 297.4h0M574.0 299.4h0M574.0 301.5h0M574.0 303.5h0M574.0 305.5h0M574.0 316.0h0M574.0 336.4h0M574.0 341.7h0M574.0 343.6h0M574.0 345.5h0M574.0 347.3h0M574.0 349.2h0M574.0 351.1h0M574.0 353.0h0M574.0 368.7h0M574.0 374.5h0M574.0 393.1h0M574.0 400.2h0M574.0 401.8h0M574.0 403.5h0M574.0 405.1h0M574.0 413.3h0M574.0 442.2h0"/>
<path stroke="#f8f45e" d="M579.3 138.4h0M579.3 140.1h0M579.3 141.7h0M579.3 143.4h0M579.3 151.1h0M579.3 152.8h0M579.3 154.5h0M579.3 156.1h0M579.3 158.0h0M579.3 160.1h0M579.3 162.2h0M579.3 164.2h0M579.3 166.3h0M579.3 168.4h0M579.3 176.8h0M579.3 185.9h0M579.3 188.1h0M579.3 190.3h0M579.3 192.5h0M579.3 194.6h0M579.3 196.8h0M579.3 199.0h0M579.3 266.5h0M579.3 267.4h0M579.3 274.6h0M579.3 276.5h0M579.3 278.4h0M579.3 283.2h0M579.3 285.2h0M579.3 287.1h0M579.3 289.1h0M579.3 291.1h0M579.3 293.0h0M579.3 295.0h0M579.3 297.0h0M579.3 298.9h0M579.3 300.9h0M579.3 309.7h0M579.3 320.1h0M579.3 338.2h0M579.3 340.2h0M579.3 342.1h0M579.3 344.1h0M579.3 346.1h0M579.3 348.0h0M579.3 350.0h0M579.3 352.0h0M579.3 353.9h0M579.3 355.9h0M579.3 372.8h0M579.3 376.4h0M579.3 393.7h0M579.3 400.2h0M579.3 401.8h0M579.3 403.5h0M579.3 405.1h0M579.3 413.1h0M579.3 443.4h0"/>
<path stroke="#f9f75c" d="M584.7 138.4h0M584.7 140.3h0M584.7 142.1h0M584.7 144.0h0M584.7 151.7h0M584.7 153.9h0M584.7 156.1h0M584.7 158.2h0M584.7 160.1h0M584.7 162.0h0M584.7 164.0h0M584.7 165.9h0M584.7 167.8h0M584.7 178.6h0M584.7 187.1h0M584.7 189.1h0M584.7 191.0h0M584.7 193.0h0M584.7 195.0h0M584.7 197.0h0M584.7 199.0h0M584.7 266.5h0M584.7 267.4h0M584.7 274.6h0M584.7 276.2h0M584.7 277.8h0M584.7 285.0h0M584.7 287.1h0M584.7 289.3h0M584.7 291.5h0M584.7 293.7h0M584.7 295.9h0M584.7 298.1h0M584.7 300.3h0M584.7 313.7h0M584.7 324.2h0M584.7 340.0h0M584.7 342.0h0M584.7 344.1h0M584.7 346.2h0M584.7 348.3h0M584.7 350.3h0M584.7 352.4h0M584.7 356.8h0M584.7 375.6h0M584.7 394.0h0M584.7 400.2h0M584.7 402.3h0M584.7 404.5h0M584.7 412.7h0M584.7 444.2h0"/>
<path stroke="#faf959" d="M590.0 138.4h0M590.0 140.3h0M590.0 142.1h0M590.0 144.0h0M590.0 151.7h0M590.0 153.2h0M590.0 158.2h0M590.0 160.3h0M590.0 162.4h0M590.0 164.5h0M590.0 166.6h0M590.0 171.9h0M590.0 180.6h0M590.0 186.5h0M590.0 188.6h0M590.0 190.7h0M590.0 192.7h0M590.0 194.8h0M590.0 196.9h0M590.0 199.0h0M590.0 266.5h0M590.0 267.4h0M590.0 274.6h0M590.0 276.2h0M590.0 277.8h0M590.0 285.0h0M590.0 287.1h0M590.0 289.3h0M590.0 291.5h0M590.0 293.7h0M590.0 295.9h0M590.0 298.1h0M590.0 300.3h0M590.0 318.3h0M590.0 327.5h0M590.0 341.1h0M590.0 343.0h0M590.0 344.9h0M590.0 346.9h0M590.0 348.8h0M590.0 350.7h0M590.0 360.1h0M590.0 378.7h0M590.0 394.3h0M590.0 399.6h0M590.0 401.2h0M590.0 402.9h0M590.0 404.5h0M590.0 412.5h0M590.0 445.0h0"/>
<path stroke="#fbfc56" d="M595.4 139.0h0M595.4 140.7h0M595.4 142.3h0M595.4 144.0h0M595.4 151.1h0M595.4 153.2h0M595.4 158.2h0M595.4 160.3h0M595.4 162.4h0M595.4 164.5h0M595.4 166.6h0M595.4 174.5h0M595.4 182.3h0M595.4 187.5h0M595.4 192.3h0M595.4 194.0h0M595.4 195.6h0M595.4 197.3h0M595.4 199.0h0M595.4 265.9h0M595.4 267.4h0M595.4 273.4h0M595.4 275.6h0M595.4 277.8h0M595.4 284.4h0M595.4 286.4h0M595.4 288.4h0M595.4 290.5h0M595.4 292.5h0M595.4 294.5h0M595.4 296.5h0M595.4 298.6h0M595.4 300.6h0M595.4 302.6h0M595.4 304.6h0M595.4 306.7h0M595.4 323.0h0M595.4 330.6h0M595.4 341.7h0M595.4 343.6h0M595.4 345.6h0M595.4 347.6h0M595.4 349.5h0M595.4 363.5h0M595.4 378.0h0M595.4 380.6h0M595.4 394.3h0M595.4 399.0h0M595.4 400.8h0M595.4 402.7h0M595.4 404.5h0M595.4 412.2h0M595.4 445.9h0"/>
</g>
<rect x="614.8" y="7.5" width="30.8" height="474.5" fill="url(#cb)" stroke="#262626" stroke-width="1"/>
<path d="M645.60 414.21h-4.50M645.60 346.43h-4.50M645.60 278.64h-4.50M645.60 210.86h-4.50M645.60 143.07h-4.50M645.60 75.29h-4.50" stroke="#262626" stroke-width="1" fill="none"/>
<text x="59.6" y="509.3" font-size="17.6" text-anchor="middle">0</text>
<text x="136.0" y="509.3" font-size="17.6" text-anchor="middle">1</text>
<text x="212.5" y="509.3" font-size="17.6" text-anchor="middle">2</text>
<text x="288.9" y="509.3" font-size="17.6" text-anchor="middle">3</text>
<text x="365.4" y="509.3" font-size="17.6" text-anchor="middle">4</text>
<text x="441.8" y="509.3" font-size="17.6" text-anchor="middle">5</text>
<text x="518.3" y="509.3" font-size="17.6" text-anchor="middle">6</text>
<text x="594.7" y="509.3" font-size="17.6" text-anchor="middle">7</text>
<text x="51.6" y="463.0" font-size="17.6" text-anchor="end">-8</text>
<text x="51.6" y="410.3" font-size="17.6" text-anchor="end">-6</text>
<text x="51.6" y="357.6" font-size="17.6" text-anchor="end">-4</text>
<text x="51.6" y="304.9" font-size="17.6" text-anchor="end">-2</text>
<text x="51.6" y="252.2" font-size="17.6" text-anchor="end">0</text>
<text x="51.6" y="199.4" font-size="17.6" text-anchor="end">2</text>
<text x="51.6" y="146.7" font-size="17.6" text-anchor="end">4</text>
<text x="51.6" y="94.0" font-size="17.6" text-anchor="end">6</text>
<text x="51.6" y="41.3" font-size="17.6" text-anchor="end">8</text>
<text x="652.0" y="489.0" font-size="17.6">0</text>
<text x="652.0" y="421.2" font-size="17.6">1</text>
<text x="652.0" y="353.4" font-size="17.6">2</text>
<text x="652.0" y="285.6" font-size="17.6">3</text>
<text x="652.0" y="217.9" font-size="17.6">4</text>
<text x="652.0" y="150.1" font-size="17.6">5</text>
<text x="652.0" y="82.3" font-size="17.6">6</text>
<text x="652.0" y="14.5" font-size="17.6">7</text>
<text class="it" x="326.3" y="537.3" font-size="28.5" text-anchor="middle" letter-spacing="1.7">B,<tspan dx="0.5">V</tspan></text>
<text class="it" transform="translate(21.3,246.7) rotate(-90)" font-size="28.5" text-anchor="middle">U<tspan font-size="18" dy="5" font-style="normal">1</tspan><tspan dy="-5">,</tspan><tspan dx="5">V</tspan></text>
<text class="it" transform="translate(679.6,245.5) rotate(-90)" font-size="17.5" text-anchor="middle" style="stroke-width:0.2px">B,<tspan dx="1.5">V</tspan></text>
</svg></body></html>
